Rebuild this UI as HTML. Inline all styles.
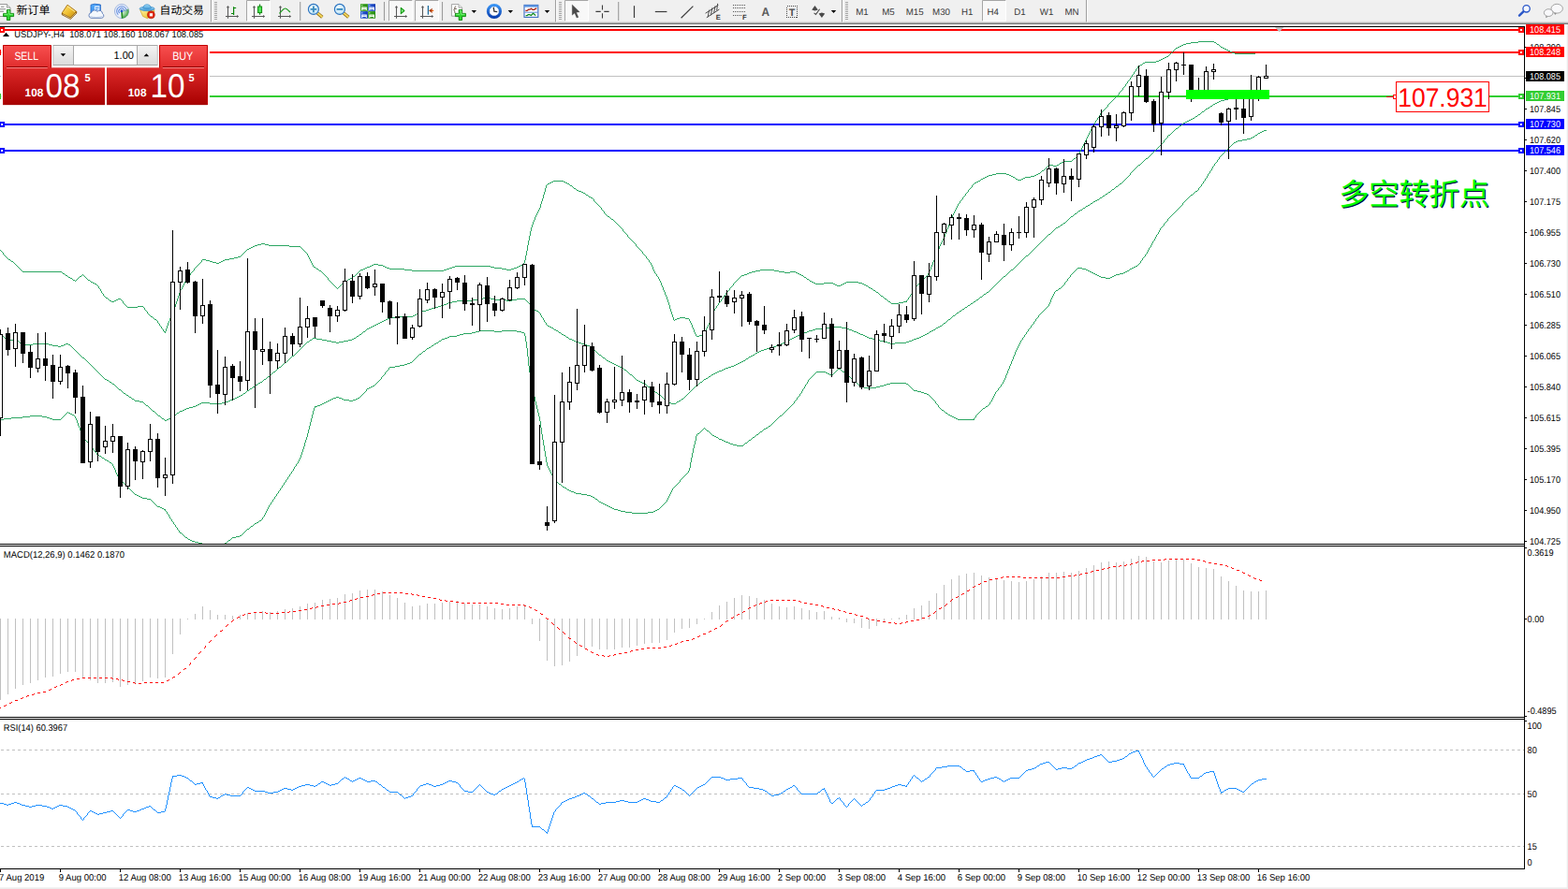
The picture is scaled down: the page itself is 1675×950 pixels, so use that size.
<!DOCTYPE html>
<html><head><meta charset="utf-8"><title>USDJPY H4</title>
<style>
html,body{margin:0;padding:0;background:#fff;}
body{width:1675px;height:950px;overflow:hidden;position:relative;font-family:"Liberation Sans", sans-serif;}
svg text{font-family:"Liberation Sans", sans-serif;text-rendering:geometricPrecision;}
</style></head><body>
<svg width="1675" height="950" viewBox="0 0 1675 950" style="position:absolute;left:0;top:0;display:block"><rect x="0" y="0" width="1675" height="950" fill="#fff"/>
<g shape-rendering="crispEdges">
<rect x="0" y="31" width="1628" height="2" fill="#ff0000"/>
<rect x="0" y="55" width="1628" height="2" fill="#ff0000"/>
<rect x="0" y="81" width="1628" height="1" fill="#c0c0c0"/>
<rect x="0" y="102" width="1628" height="2" fill="#32cd32"/>
<rect x="0" y="132" width="1628" height="2" fill="#0000ff"/>
<rect x="0" y="160" width="1628" height="2" fill="#0000ff"/>
</g>
<clipPath id="mainclip"><rect x="0" y="29" width="1628" height="552"/></clipPath>
<g clip-path="url(#mainclip)"><path d="M0 267.5h1M1 268.5h1M2 269.5h1M3.5 270v2M4 272.5h1M5 273.5h1M6 274.5h1M7 275.5h1M8 276.5h1M9 277.5h2M11 278.5h1M12 279.5h2M14 280.5h1M15 281.5h1M16 282.5h1M17 283.5h1M18 284.5h1M19 285.5h1M20 286.5h1M21 287.5h1M22 288.5h1M23 289.5h1M24 290.5h42M66 291.5h1M67 292.5h2M69 293.5h1M70 294.5h2M72 295.5h1M73 296.5h2M75 297.5h2M77 298.5h1M78 299.5h2M80 300.5h1M81 299.5h1M82 298.5h1M83 297.5h1M84 296.5h1M85 295.5h2M87 294.5h1M88 293.5h1M89 294.5h1M90 295.5h1M91 296.5h1M92 297.5h1M93 298.5h1M94 299.5h2M96 300.5h1M97 301.5h2M99 302.5h2M101 303.5h2M103 304.5h1M104 305.5h1M105.5 306v2M106 308.5h1M107.5 309v2M108.5 311v2M109 313.5h1M110.5 314v2M111 316.5h1M112 317.5h1M113 318.5h2M115 319.5h1M116 320.5h1M117 321.5h2M119 322.5h3M122 321.5h2M124 320.5h2M126 319.5h3M129 320.5h1M130 321.5h1M131.5 322v2M132 324.5h1M133 325.5h1M134 326.5h1M135 327.5h1M136 328.5h11M147 327.5h6M153 328.5h1M154.5 329v2M155 331.5h1M156 332.5h1M157.5 333v2M158 335.5h1M159 336.5h1M160 337.5h1M161 338.5h2M163 339.5h1M164 340.5h1M165 341.5h2M167 342.5h1M168.5 343v2M169 345.5h1M170.5 346v2M171 348.5h1M172.5 349v2M173 351.5h1M174.5 352v2M175 354.5h1M176.5 354v2M177.5 351v3M178.5 348v3M179.5 345v3M180.5 343v2M181.5 340v3M182.5 337v3M183.5 335v2M184.5 333v2M185.5 330v3M186.5 328v2M187.5 325v3M188.5 322v3M189.5 319v3M190.5 316v3M191.5 313v3M192.5 310v3M193 309.5h1M194.5 307v2M195.5 305v2M196.5 303v2M197.5 301v2M198.5 299v2M199.5 297v2M200 296.5h1M201 295.5h1M202 294.5h1M203.5 292v2M204 291.5h1M205 290.5h1M206 289.5h1M207.5 287v2M208 286.5h1M209 285.5h1M210 284.5h1M211 283.5h1M212 282.5h1M213 281.5h1M214 280.5h1M215.5 278v2M216 277.5h4M220 278.5h4M224 279.5h3M227 280.5h4M231 281.5h3M234 280.5h2M236 279.5h2M238 278.5h2M240 277.5h5M245 276.5h5M250 275.5h4M254 274.5h3M257 273.5h1M258 272.5h1M259 271.5h1M260 270.5h1M261 269.5h1M262 268.5h1M263 267.5h1M264 266.5h2M266 265.5h2M268 264.5h2M270 263.5h2M272 262.5h3M275 261.5h4M279 260.5h4M283 261.5h4M287 262.5h22M309 263.5h12M321 264.5h1M322 265.5h1M323 266.5h1M324 267.5h1M325 268.5h1M326 269.5h1M327 270.5h1M328.5 271v2M329.5 273v2M330.5 275v2M331.5 277v2M332.5 279v2M333.5 281v2M334.5 283v2M335 285.5h2M337 286.5h1M338 287.5h2M340 288.5h1M341 289.5h2M343 290.5h1M344 291.5h1M345 292.5h1M346 293.5h1M347 294.5h1M348 295.5h1M349 296.5h1M350.5 297v2M351 299.5h1M352 300.5h1M353 301.5h1M354 302.5h1M355 303.5h1M356 304.5h1M357 305.5h1M358 306.5h1M359 307.5h1M360 308.5h1M361 307.5h1M362 306.5h1M363 305.5h1M364 304.5h1M365 303.5h1M366 302.5h2M368 301.5h1M369 300.5h2M371 299.5h1M372 298.5h2M374 297.5h2M376 296.5h1M377 295.5h2M379 294.5h1M380 293.5h1M381 292.5h1M382 291.5h1M383 290.5h1M384 289.5h1M385 288.5h3M388 287.5h2M390 286.5h2M392 285.5h3M395 284.5h2M397 283.5h2M399 282.5h5M404 283.5h5M409 284.5h2M411 285.5h2M413 286.5h3M416 287.5h16M432 288.5h8M440 289.5h34M474 288.5h3M477 287.5h3M480 286.5h3M483 285.5h3M486 284.5h38M524 285.5h4M528 286.5h8M536 287.5h5M541 288.5h5M546 287.5h3M549 286.5h3M552 285.5h2M554 284.5h2M556 283.5h2M558 282.5h1M559 281.5h1M560.5 278v3M561.5 273v5M562.5 268v5M563.5 262v6M564.5 257v5M565.5 252v5M566.5 247v5M567.5 243v4M568.5 240v3M569.5 237v3M570.5 235v2M571.5 232v3M572.5 230v2M573.5 228v2M574.5 226v2M575.5 224v2M576.5 222v2M577.5 218v4M578.5 215v3M579.5 212v3M580.5 208v4M581.5 205v3M582.5 201v4M583.5 198v3M584 197.5h1M585 196.5h2M587 195.5h2M589 194.5h2M591 193.5h11M602 194.5h2M604 195.5h2M606 196.5h2M608 197.5h1M609 198.5h2M611 199.5h1M612 200.5h1M613 201.5h2M615 202.5h1M616 203.5h2M618 204.5h3M621 205.5h2M623 206.5h2M625 207.5h1M626 208.5h2M628 209.5h1M629 210.5h2M631 211.5h2M633 212.5h1M634.5 213v2M635 215.5h1M636 216.5h1M637 217.5h1M638 218.5h1M639 219.5h1M640 220.5h1M641 221.5h1M642.5 222v2M643 224.5h1M644 225.5h1M645.5 226v2M646 228.5h1M647 229.5h1M648 230.5h1M649 231.5h2M651 232.5h1M652 233.5h1M653 234.5h2M655 235.5h1M656 236.5h1M657 237.5h1M658 238.5h1M659 239.5h1M660 240.5h1M661 241.5h1M662 242.5h1M663 243.5h1M664 244.5h1M665.5 245v2M666 247.5h1M667 248.5h1M668 249.5h1M669 250.5h1M670.5 251v2M671 253.5h1M672 254.5h1M673 255.5h1M674 256.5h1M675 257.5h1M676 258.5h1M677 259.5h1M678 260.5h1M679.5 261v2M680 263.5h1M681 264.5h1M682 265.5h1M683 266.5h1M684 267.5h1M685 268.5h1M686.5 269v2M687 271.5h1M688 272.5h1M689 273.5h1M690.5 274v2M691 276.5h1M692 277.5h1M693.5 278v2M694 280.5h1M695.5 281v2M696.5 283v2M697.5 285v3M698.5 288v2M699.5 290v2M700 292.5h1M701.5 293v2M702 295.5h1M703.5 296v2M704.5 298v2M705.5 300v2M706.5 302v3M707.5 305v2M708.5 307v3M709.5 310v2M710.5 312v3M711.5 315v2M712.5 317v3M713.5 320v3M714.5 323v3M715.5 326v4M716.5 330v3M717.5 333v3M718.5 336v3M719.5 339v3M720 342.5h1M721 341.5h2M723 340.5h3M726 339.5h6M732 340.5h4M736.5 341v2M737.5 343v2M738.5 345v2M739.5 347v3M740.5 350v2M741.5 352v3M742.5 355v2M743.5 357v2M744 359.5h3M747 358.5h3M750 357.5h1M751.5 355v2M752 354.5h1M753 353.5h1M754.5 351v2M755.5 349v2M756.5 347v2M757.5 345v2M758.5 342v3M759.5 340v2M760.5 337v3M761.5 334v3M762.5 332v2M763.5 330v2M764 329.5h1M765.5 327v2M766 326.5h1M767.5 324v2M768 323.5h1M769 322.5h1M770.5 320v2M771 319.5h1M772.5 317v2M773 316.5h1M774 315.5h1M775.5 313v2M776 312.5h1M777 311.5h1M778 310.5h1M779.5 308v2M780 307.5h1M781 306.5h1M782 305.5h1M783.5 303v2M784 302.5h1M785 301.5h1M786 300.5h1M787 299.5h1M788 298.5h1M789 297.5h1M790 296.5h1M791 295.5h1M792 294.5h3M795 293.5h3M798 292.5h2M800 291.5h3M803 290.5h4M807 289.5h5M812 288.5h15M827 289.5h5M832 290.5h6M838 291.5h6M844 290.5h6M850 291.5h2M852 292.5h2M854 293.5h2M856 294.5h2M858 295.5h1M859 296.5h2M861 297.5h1M862 298.5h2M864 299.5h1M865 300.5h2M867 301.5h2M869 302.5h2M871 303.5h9M880 302.5h10M890 303.5h2M892 304.5h2M894 305.5h4M898 304.5h2M900 303.5h2M902 302.5h2M904 301.5h13M917 302.5h4M921 303.5h2M923 304.5h2M925 305.5h2M927 306.5h1M928 307.5h2M930 308.5h2M932 309.5h1M933 310.5h2M935 311.5h1M936 312.5h2M938 313.5h1M939 314.5h1M940 315.5h1M941 316.5h2M943 317.5h1M944 318.5h1M945 319.5h2M947 320.5h1M948 321.5h1M949 322.5h2M951 323.5h1M952 324.5h8M960 323.5h5M965 322.5h3M968.5 321v2M969 320.5h1M970.5 318v2M971 317.5h1M972.5 315v2M973 314.5h1M974.5 312v2M975 311.5h1M976.5 309v2M977.5 307v2M978 306.5h1M979 305.5h1M980 304.5h1M981 303.5h1M982 302.5h1M983 301.5h1M984 300.5h1M985 299.5h1M986 298.5h1M987 297.5h1M988 296.5h1M989 295.5h1M990 294.5h1M991.5 292v2M992.5 290v2M993.5 288v2M994.5 285v3M995.5 283v2M996.5 280v3M997.5 278v2M998.5 275v3M999.5 273v2M1000.5 271v2M1001.5 268v3M1002.5 266v2M1003.5 263v3M1004.5 261v2M1005.5 259v2M1006.5 257v2M1007.5 255v2M1008.5 253v2M1009.5 250v3M1010.5 248v2M1011.5 245v3M1012.5 243v2M1013.5 240v3M1014.5 238v2M1015.5 235v3M1016.5 232v3M1017.5 230v2M1018.5 228v2M1019.5 226v2M1020.5 224v2M1021.5 222v2M1022.5 220v2M1023.5 218v2M1024 217.5h1M1025.5 215v2M1026 214.5h1M1027 213.5h1M1028.5 211v2M1029 210.5h1M1030 209.5h1M1031.5 207v2M1032 206.5h1M1033 205.5h1M1034.5 203v2M1035 202.5h1M1036 201.5h1M1037 200.5h1M1038.5 198v2M1039 197.5h1M1040 196.5h1M1041 195.5h2M1043 194.5h2M1045 193.5h2M1047 192.5h1M1048 191.5h2M1050 190.5h2M1052 189.5h2M1054 188.5h2M1056 187.5h4M1060 186.5h4M1064 185.5h11M1075 186.5h3M1078 187.5h2M1080 188.5h2M1082 189.5h2M1084 190.5h1M1085 191.5h2M1087 192.5h4M1091 191.5h2M1093 190.5h2M1095 189.5h6M1101 188.5h4M1105 187.5h2M1107 186.5h2M1109 185.5h2M1111 184.5h1M1112 183.5h1M1113 182.5h2M1115 181.5h1M1116 180.5h1M1117 179.5h1M1118 178.5h1M1119 177.5h1M1120 176.5h5M1125 177.5h4M1129 176.5h2M1131 175.5h1M1132 174.5h2M1134 173.5h2M1136 172.5h9M1145 171.5h1M1146 170.5h1M1147 169.5h2M1149 168.5h1M1150 167.5h1M1151 166.5h1M1152.5 164v2M1153.5 162v2M1154.5 160v2M1155.5 158v2M1156.5 156v2M1157.5 154v2M1158.5 152v2M1159.5 150v2M1160.5 148v2M1161.5 146v2M1162.5 144v2M1163.5 142v2M1164.5 140v2M1165.5 138v2M1166.5 136v2M1167.5 134v2M1168 133.5h1M1169.5 131v2M1170.5 129v2M1171 128.5h1M1172.5 126v2M1173 125.5h1M1174.5 123v2M1175.5 121v2M1176 120.5h1M1177 119.5h1M1178 118.5h1M1179 117.5h1M1180 116.5h1M1181 115.5h1M1182 114.5h1M1183.5 112v2M1184 111.5h1M1185 110.5h1M1186 109.5h1M1187 108.5h1M1188 107.5h1M1189 106.5h1M1190 105.5h1M1191 104.5h1M1192 103.5h1M1193 102.5h1M1194 101.5h1M1195.5 99v2M1196 98.5h1M1197 97.5h1M1198 96.5h1M1199.5 94v2M1200 93.5h1M1201 92.5h1M1202.5 90v2M1203 89.5h1M1204.5 87v2M1205 86.5h1M1206 85.5h1M1207.5 83v2M1208 82.5h1M1209.5 80v2M1210 79.5h1M1211.5 77v2M1212 76.5h1M1213.5 74v2M1214 73.5h1M1215.5 71v2M1216 70.5h2M1218 69.5h2M1220 68.5h1M1221 67.5h2M1223 66.5h12M1235 65.5h3M1238 64.5h2M1240 63.5h2M1242 62.5h2M1244 61.5h2M1246 60.5h2M1248 59.5h1M1249 58.5h1M1250 57.5h1M1251 56.5h1M1252 55.5h1M1253 54.5h1M1254 53.5h1M1255 52.5h1M1256 51.5h2M1258 50.5h2M1260 49.5h2M1262 48.5h2M1264 47.5h3M1267 46.5h5M1272 45.5h8M1280 44.5h17M1297 45.5h2M1299 46.5h1M1300 47.5h2M1302 48.5h1M1303 49.5h1M1304 50.5h2M1306 51.5h2M1308 52.5h2M1310 53.5h2M1312 54.5h2M1314 55.5h2M1316 56.5h3M1319 57.5h22M0 357.5h1M1 358.5h2M3 359.5h1M4 360.5h1M5 361.5h2M7 362.5h1M8 363.5h10M18 364.5h2M20 365.5h1M21 366.5h2M23 367.5h1M24 368.5h11M35 367.5h17M52 368.5h4M56 369.5h6M62 370.5h3M65 369.5h3M68 368.5h2M70 367.5h3M73 368.5h2M75 369.5h1M76 370.5h1M77 371.5h1M78 372.5h1M79 373.5h1M80 374.5h1M81 375.5h1M82 376.5h1M83 377.5h1M84 378.5h1M85 379.5h1M86 380.5h1M87 381.5h1M88 382.5h2M90 383.5h1M91 384.5h1M92 385.5h1M93 386.5h1M94 387.5h1M95 388.5h1M96 389.5h1M97 390.5h1M98 391.5h1M99 392.5h1M100 393.5h1M101 394.5h1M102 395.5h1M103 396.5h1M104 397.5h1M105 398.5h1M106 399.5h1M107 400.5h1M108 401.5h1M109 402.5h1M110 403.5h1M111 404.5h1M112 405.5h2M114 406.5h2M116 407.5h1M117 408.5h2M119 409.5h1M120 410.5h2M122 411.5h1M123 412.5h1M124 413.5h1M125 414.5h1M126 415.5h1M127 416.5h2M129 417.5h1M130 418.5h1M131 419.5h1M132 420.5h2M134 421.5h1M135 422.5h2M137 423.5h1M138 424.5h2M140 425.5h1M141 426.5h2M143 427.5h1M144 428.5h5M149 429.5h4M153 430.5h1M154 431.5h1M155 432.5h1M156 433.5h2M158 434.5h1M159 435.5h1M160 436.5h1M161 437.5h1M162 438.5h1M163 439.5h2M165 440.5h1M166 441.5h1M167 442.5h1M168 443.5h1M169 444.5h2M171 445.5h1M172 446.5h1M173 447.5h2M175 448.5h1M176 449.5h2M178 448.5h2M180 447.5h3M183 446.5h1M184 445.5h1M185 444.5h2M187 443.5h1M188 442.5h1M189 441.5h2M191 440.5h1M192 439.5h3M195 438.5h2M197 437.5h2M199 436.5h3M202 435.5h4M206 434.5h3M209 433.5h2M211 432.5h2M213 431.5h2M215 430.5h9M224 431.5h13M237 430.5h4M241 429.5h3M244 428.5h2M246 427.5h2M248 426.5h3M251 425.5h2M253 424.5h2M255 423.5h2M257 422.5h2M259 421.5h1M260 420.5h2M262 419.5h1M263 418.5h1M264 417.5h2M266 416.5h1M267 415.5h2M269 414.5h1M270 413.5h2M272 412.5h1M273 411.5h2M275 410.5h1M276 409.5h2M278 408.5h2M280 407.5h1M281 406.5h1M282 405.5h2M284 404.5h1M285 403.5h1M286 402.5h2M288 401.5h1M289 400.5h1M290 399.5h1M291 398.5h1M292 397.5h2M294 396.5h1M295 395.5h1M296 394.5h1M297 393.5h1M298 392.5h2M300 391.5h1M301 390.5h1M302 389.5h1M303 388.5h1M304 387.5h2M306 386.5h1M307 385.5h1M308 384.5h1M309 383.5h1M310 382.5h1M311 381.5h1M312 380.5h2M314 379.5h1M315 378.5h1M316 377.5h1M317 376.5h1M318 375.5h1M319 374.5h1M320 373.5h1M321 372.5h1M322 371.5h1M323 370.5h1M324 369.5h1M325 368.5h1M326 367.5h1M327 366.5h1M328 365.5h2M330 364.5h1M331 363.5h2M333 362.5h1M334 361.5h4M338 362.5h6M344 363.5h5M349 364.5h5M354 365.5h5M359 366.5h3M362 365.5h5M367 364.5h5M372 363.5h4M376 362.5h2M378 361.5h2M380 360.5h1M381 359.5h2M383 358.5h1M384 357.5h2M386 356.5h1M387 355.5h1M388 354.5h2M390 353.5h1M391 352.5h1M392 351.5h2M394 350.5h2M396 349.5h2M398 348.5h2M400 347.5h2M402 346.5h2M404 345.5h2M406 344.5h2M408 343.5h2M410 342.5h2M412 341.5h2M414 340.5h2M416 339.5h8M424 338.5h17M441 337.5h2M443 336.5h2M445 335.5h2M447 334.5h1M448 333.5h3M451 332.5h4M455 331.5h3M458 330.5h3M461 329.5h3M464 328.5h4M468 327.5h3M471 326.5h3M474 325.5h3M477 324.5h2M479 323.5h4M483 322.5h5M488 321.5h16M504 320.5h8M512 319.5h4M516 318.5h8M524 319.5h4M528 320.5h13M541 321.5h6M547 320.5h5M552 319.5h9M561 320.5h1M562 321.5h1M563 322.5h1M564 323.5h1M565 324.5h1M566 325.5h1M567.5 326v2M568 328.5h1M569 329.5h1M570 330.5h1M571 331.5h2M573 332.5h2M575 333.5h1M576 334.5h1M577.5 335v2M578.5 337v2M579 339.5h1M580.5 340v2M581.5 342v2M582 344.5h1M583.5 345v2M584 347.5h1M585 348.5h2M587 349.5h2M589 350.5h2M591 351.5h1M592 352.5h2M594 353.5h2M596 354.5h1M597 355.5h2M599 356.5h1M600 357.5h2M602 358.5h2M604 359.5h1M605 360.5h2M607 361.5h1M608 362.5h3M611 363.5h2M613 364.5h2M615 365.5h3M618 366.5h3M621 367.5h3M624 368.5h3M627 369.5h3M630 370.5h2M632 371.5h1M633 372.5h1M634 373.5h1M635 374.5h1M636 375.5h1M637 376.5h1M638 377.5h1M639 378.5h1M640 379.5h2M642 380.5h1M643 381.5h1M644 382.5h2M646 383.5h1M647 384.5h1M648 385.5h2M650 386.5h2M652 387.5h2M654 388.5h2M656 389.5h2M658 390.5h2M660 391.5h2M662 392.5h2M664 393.5h2M666 394.5h1M667 395.5h2M669 396.5h1M670 397.5h1M671 398.5h1M672 399.5h1M673 400.5h2M675 401.5h1M676 402.5h1M677 403.5h1M678 404.5h1M679 405.5h1M680 406.5h2M682 407.5h2M684 408.5h2M686 409.5h2M688 410.5h2M690 411.5h1M691 412.5h1M692 413.5h2M694 414.5h1M695 415.5h1M696 416.5h2M698 417.5h1M699 418.5h1M700 419.5h2M702 420.5h1M703 421.5h1M704 422.5h2M706 423.5h1M707 424.5h1M708 425.5h1M709 426.5h1M710 427.5h1M711 428.5h1M712 429.5h3M715 430.5h2M717 431.5h5M722 430.5h1M723 429.5h2M725 428.5h2M727 427.5h1M728 426.5h2M730 425.5h1M731 424.5h1M732 423.5h1M733 422.5h1M734 421.5h1M735 420.5h1M736 419.5h1M737 418.5h1M738 417.5h1M739 416.5h1M740 415.5h1M741 414.5h1M742 413.5h1M743 412.5h1M744 411.5h2M746 410.5h1M747 409.5h1M748 408.5h2M750 407.5h1M751 406.5h1M752 405.5h2M754 404.5h2M756 403.5h1M757 402.5h2M759 401.5h1M760 400.5h2M762 399.5h2M764 398.5h2M766 397.5h2M768 396.5h3M771 395.5h2M773 394.5h2M775 393.5h3M778 392.5h3M781 391.5h3M784 390.5h2M786 389.5h2M788 388.5h2M790 387.5h2M792 386.5h2M794 385.5h2M796 384.5h1M797 383.5h2M799 382.5h1M800 381.5h2M802 380.5h2M804 379.5h2M806 378.5h1M807 377.5h2M809 376.5h2M811 375.5h2M813 374.5h3M816 373.5h3M819 372.5h4M823 371.5h3M826 370.5h3M829 369.5h3M832 368.5h2M834 367.5h2M836 366.5h2M838 365.5h2M840 364.5h2M842 363.5h2M844 362.5h2M846 361.5h2M848 360.5h2M850 359.5h2M852 358.5h2M854 357.5h2M856 356.5h3M859 355.5h3M862 354.5h2M864 353.5h4M868 352.5h3M871 351.5h9M880 350.5h8M888 349.5h11M899 350.5h5M904 351.5h3M907 352.5h3M910 353.5h2M912 354.5h3M915 355.5h2M917 356.5h2M919 357.5h3M922 358.5h2M924 359.5h2M926 360.5h2M928 361.5h4M932 362.5h4M936 363.5h4M940 364.5h4M944 365.5h4M948 366.5h3M951 367.5h5M956 366.5h12M968 365.5h3M971 364.5h3M974 363.5h2M976 362.5h3M979 361.5h3M982 360.5h2M984 359.5h2M986 358.5h2M988 357.5h2M990 356.5h2M992 355.5h1M993 354.5h2M995 353.5h2M997 352.5h2M999 351.5h1M1000 350.5h2M1002 349.5h2M1004 348.5h2M1006 347.5h1M1007 346.5h1M1008 345.5h2M1010 344.5h1M1011 343.5h1M1012 342.5h1M1013 341.5h2M1015 340.5h1M1016 339.5h1M1017 338.5h1M1018 337.5h2M1020 336.5h1M1021 335.5h1M1022 334.5h2M1024 333.5h1M1025 332.5h2M1027 331.5h1M1028 330.5h2M1030 329.5h1M1031 328.5h2M1033 327.5h1M1034 326.5h2M1036 325.5h1M1037 324.5h2M1039 323.5h1M1040 322.5h2M1042 321.5h1M1043 320.5h2M1045 319.5h1M1046 318.5h1M1047 317.5h2M1049 316.5h1M1050 315.5h1M1051 314.5h2M1053 313.5h1M1054 312.5h2M1056 311.5h1M1057 310.5h1M1058 309.5h1M1059 308.5h1M1060 307.5h1M1061 306.5h1M1062 305.5h1M1063 304.5h1M1064 303.5h1M1065 302.5h1M1066 301.5h1M1067 300.5h1M1068 299.5h1M1069 298.5h1M1070 297.5h1M1071 296.5h1M1072 295.5h2M1074 294.5h1M1075 293.5h1M1076 292.5h1M1077 291.5h1M1078 290.5h1M1079 289.5h1M1080 288.5h2M1082 287.5h1M1083 286.5h1M1084 285.5h1M1085 284.5h1M1086 283.5h1M1087 282.5h1M1088 281.5h1M1089 280.5h1M1090 279.5h1M1091 278.5h1M1092 277.5h1M1093 276.5h1M1094 275.5h1M1095 274.5h1M1096 273.5h2M1098 272.5h1M1099 271.5h1M1100 270.5h1M1101 269.5h1M1102 268.5h1M1103 267.5h1M1104 266.5h1M1105 265.5h1M1106 264.5h1M1107 263.5h1M1108 262.5h1M1109 261.5h1M1110 260.5h1M1111 259.5h1M1112 258.5h1M1113 257.5h1M1114 256.5h1M1115 255.5h1M1116 254.5h1M1117 253.5h1M1118 252.5h1M1119 251.5h1M1120 250.5h2M1122 249.5h1M1123 248.5h1M1124 247.5h1M1125 246.5h1M1126 245.5h1M1127 244.5h1M1128 243.5h2M1130 242.5h2M1132 241.5h1M1133 240.5h2M1135 239.5h1M1136 238.5h2M1138 237.5h1M1139 236.5h1M1140 235.5h1M1141 234.5h1M1142 233.5h1M1143 232.5h1M1144 231.5h2M1146 230.5h1M1147 229.5h1M1148 228.5h2M1150 227.5h1M1151 226.5h1M1152 225.5h2M1154 224.5h2M1156 223.5h1M1157 222.5h2M1159 221.5h1M1160 220.5h2M1162 219.5h2M1164 218.5h1M1165 217.5h2M1167 216.5h1M1168 215.5h2M1170 214.5h2M1172 213.5h2M1174 212.5h1M1175 211.5h2M1177 210.5h1M1178 209.5h2M1180 208.5h1M1181 207.5h2M1183 206.5h1M1184 205.5h2M1186 204.5h1M1187 203.5h1M1188 202.5h2M1190 201.5h1M1191 200.5h1M1192 199.5h2M1194 198.5h1M1195 197.5h1M1196 196.5h2M1198 195.5h1M1199 194.5h1M1200 193.5h1M1201 192.5h1M1202 191.5h1M1203 190.5h1M1204 189.5h1M1205 188.5h1M1206 187.5h1M1207.5 185v2M1208 184.5h1M1209 183.5h1M1210 182.5h1M1211 181.5h1M1212 180.5h1M1213 179.5h1M1214 178.5h1M1215 177.5h1M1216 176.5h2M1218 175.5h1M1219 174.5h1M1220 173.5h1M1221 172.5h1M1222 171.5h1M1223 170.5h1M1224 169.5h2M1226 168.5h1M1227 167.5h1M1228 166.5h1M1229 165.5h1M1230 164.5h1M1231 163.5h1M1232 162.5h1M1233 161.5h1M1234 160.5h1M1235 159.5h1M1236 158.5h1M1237 157.5h1M1238 156.5h1M1239 155.5h1M1240 154.5h1M1241 153.5h1M1242 152.5h1M1243.5 150v2M1244 149.5h1M1245 148.5h1M1246 147.5h1M1247.5 145v2M1248 144.5h2M1250 143.5h1M1251 142.5h1M1252 141.5h1M1253 140.5h1M1254 139.5h1M1255 138.5h1M1256 137.5h2M1258 136.5h1M1259 135.5h1M1260 134.5h2M1262 133.5h1M1263 132.5h1M1264 131.5h2M1266 130.5h2M1268 129.5h2M1270 128.5h2M1272 127.5h2M1274 126.5h2M1276 125.5h1M1277 124.5h2M1279 123.5h1M1280 122.5h2M1282 121.5h1M1283 120.5h1M1284 119.5h2M1286 118.5h1M1287 117.5h1M1288 116.5h2M1290 115.5h2M1292 114.5h1M1293 113.5h2M1295 112.5h1M1296 111.5h2M1298 110.5h2M1300 109.5h2M1302 108.5h2M1304 107.5h4M1308 106.5h4M1312 105.5h8M1320 104.5h8M1328 103.5h8M1336 102.5h8M1344 101.5h9M0 448.5h4M4 447.5h8M12 446.5h12M24 445.5h8M32 444.5h13M45 445.5h5M50 446.5h3M53 447.5h3M56 448.5h9M65 447.5h1M66 446.5h1M67 445.5h1M68 444.5h1M69 443.5h1M70 442.5h1M71 441.5h1M72 440.5h1M73 441.5h2M75 442.5h2M77 443.5h2M79 444.5h1M80.5 445v2M81.5 447v2M82.5 449v3M83.5 452v3M84.5 455v2M85.5 457v3M86.5 460v3M87.5 463v2M88.5 465v2M89.5 467v2M90 469.5h1M91 470.5h1M92 471.5h1M93 472.5h1M94.5 473v2M95 475.5h1M96 476.5h1M97 477.5h1M98 478.5h1M99.5 479v2M100 481.5h1M101 482.5h1M102 483.5h1M103.5 484v2M104 486.5h2M106 487.5h2M108 488.5h1M109 489.5h2M111 490.5h1M112 491.5h2M114 492.5h2M116 493.5h1M117 494.5h2M119 495.5h1M120.5 496v2M121.5 498v2M122.5 500v2M123.5 502v3M124.5 505v2M125.5 507v2M126 509.5h1M127.5 510v2M128 512.5h1M129 513.5h1M130 514.5h1M131 515.5h1M132 516.5h1M133 517.5h1M134 518.5h1M135 519.5h1M136 520.5h1M137 521.5h1M138 522.5h1M139 523.5h1M140 524.5h1M141 525.5h1M142 526.5h1M143 527.5h1M144 528.5h2M146 529.5h2M148 530.5h2M150 531.5h2M152 532.5h5M157 533.5h4M161 534.5h1M162 535.5h1M163 536.5h1M164 537.5h1M165 538.5h1M166 539.5h1M167 540.5h1M168 541.5h3M171 542.5h2M173 543.5h2M175 544.5h1M176.5 544v2M177 546.5h1M178.5 547v2M179 549.5h1M180.5 550v2M181.5 552v2M182 554.5h1M183.5 555v2M184 557.5h1M185.5 558v2M186 560.5h1M187.5 561v2M188 563.5h1M189.5 564v2M190 566.5h1M191.5 567v2M192 569.5h2M194 570.5h1M195 571.5h1M196 572.5h1M197 573.5h1M198 574.5h2M200 575.5h1M201 576.5h2M203 577.5h2M205 578.5h3M208 579.5h4M212 580.5h4M240 580.5h2M242 579.5h1M243 578.5h1M244 577.5h2M246 576.5h1M247 575.5h1M248 574.5h4M252 573.5h4M256 572.5h2M258 571.5h1M259 570.5h1M260 569.5h1M261 568.5h1M262 567.5h1M263 566.5h1M264 565.5h2M266 564.5h1M267 563.5h1M268 562.5h2M270 561.5h1M271 560.5h1M272 559.5h2M274 558.5h2M276 557.5h1M277 556.5h2M279 555.5h1M280.5 553v2M281 552.5h1M282.5 550v2M283.5 548v2M284.5 546v2M285.5 544v2M286.5 542v2M287.5 540v2M288 539.5h1M289.5 537v2M290 536.5h1M291.5 534v2M292 533.5h1M293.5 531v2M294 530.5h1M295.5 528v2M296 527.5h1M297.5 525v2M298 524.5h1M299.5 522v2M300 521.5h1M301.5 519v2M302 518.5h1M303.5 516v2M304 515.5h1M305.5 513v2M306 512.5h1M307.5 510v2M308 509.5h1M309.5 507v2M310 506.5h1M311.5 504v2M312 503.5h1M313.5 501v2M314.5 499v2M315 498.5h1M316.5 496v2M317 495.5h1M318.5 493v2M319.5 491v2M320.5 489v2M321.5 486v3M322.5 483v3M323.5 480v3M324.5 477v3M325.5 473v4M326.5 470v3M327.5 467v3M328.5 463v4M329.5 459v4M330.5 455v4M331.5 451v4M332.5 447v4M333.5 443v4M334.5 439v4M335.5 436v3M336.5 434v2M337 434.5h2M339 433.5h3M342 432.5h2M344 431.5h2M346 430.5h2M348 429.5h2M350 428.5h2M352 427.5h2M354 426.5h2M356 425.5h3M359 424.5h3M362 425.5h3M365 426.5h2M367 427.5h6M373 428.5h4M377 427.5h3M380 426.5h2M382 425.5h2M384 424.5h1M385 423.5h1M386 422.5h1M387 421.5h1M388 420.5h1M389 419.5h1M390 418.5h1M391.5 416v2M392 415.5h2M394 414.5h2M396 413.5h2M398 412.5h2M400 411.5h1M401 410.5h1M402 409.5h1M403 408.5h1M404 407.5h1M405 406.5h1M406 405.5h1M407.5 403v2M408 402.5h1M409 401.5h1M410 400.5h1M411.5 398v2M412 397.5h1M413 396.5h1M414 395.5h1M415.5 393v2M416 392.5h6M422 391.5h5M427 390.5h5M432 389.5h3M435 388.5h3M438 387.5h2M440 386.5h1M441 385.5h1M442 384.5h1M443 383.5h1M444 382.5h1M445 381.5h1M446 380.5h1M447 379.5h1M448 378.5h2M450 377.5h1M451 376.5h1M452 375.5h2M454 374.5h1M455 373.5h1M456 372.5h2M458 371.5h2M460 370.5h1M461 369.5h2M463 368.5h1M464 367.5h2M466 366.5h2M468 365.5h1M469 364.5h2M471 363.5h1M472 362.5h3M475 361.5h3M478 360.5h2M480 359.5h8M488 358.5h3M491 357.5h4M495 356.5h9M504 355.5h4M508 354.5h4M512 353.5h16M528 354.5h8M536 353.5h16M552 354.5h5M557 355.5h3M560.5 356v3M561.5 359v6M562.5 365v7M563.5 372v9M564.5 381v10M565.5 391v7M566.5 398v5M567.5 403v5M568.5 408v5M569.5 413v6M570.5 419v5M571.5 424v5M572.5 429v4M573.5 433v4M574.5 437v4M575.5 441v4M576.5 445v5M577.5 450v7M578.5 457v7M579.5 464v6M580.5 470v6M581.5 476v6M582.5 482v6M583.5 488v6M584.5 494v4M585.5 498v2M586.5 500v2M587.5 502v2M588.5 504v2M589.5 506v2M590.5 508v2M591 510.5h1M592 511.5h1M593.5 512v2M594 514.5h1M595 515.5h1M596 516.5h1M597 517.5h2M599 518.5h1M600 519.5h1M601 520.5h2M603 521.5h2M605 522.5h1M606 523.5h2M608 524.5h2M610 525.5h3M613 526.5h2M615 527.5h6M621 528.5h6M627 529.5h4M631 530.5h2M633 531.5h2M635 532.5h1M636 533.5h2M638 534.5h1M639 535.5h1M640 536.5h2M642 537.5h2M644 538.5h2M646 539.5h2M648 540.5h2M650 541.5h2M652 542.5h2M654 543.5h2M656 544.5h4M660 545.5h3M663 546.5h5M668 547.5h7M675 548.5h17M692 547.5h6M698 546.5h2M700 545.5h2M702 544.5h2M704 543.5h1M705 542.5h1M706 541.5h1M707 540.5h1M708 539.5h1M709 538.5h1M710 537.5h1M711 536.5h1M712.5 534v2M713.5 532v2M714.5 530v2M715.5 528v2M716.5 526v2M717.5 524v2M718.5 522v2M719 521.5h1M720 520.5h1M721 519.5h1M722 518.5h1M723 517.5h1M724 516.5h1M725 515.5h1M726.5 513v2M727 512.5h1M728 511.5h1M729 510.5h1M730 509.5h1M731 508.5h1M732 507.5h1M733 506.5h1M734 505.5h1M735.5 503v2M736.5 500v3M737.5 494v6M738.5 489v5M739.5 484v5M740.5 479v5M741.5 475v4M742.5 471v4M743.5 466v5M744.5 464v2M745 463.5h2M747 462.5h1M748 461.5h1M749 460.5h1M750 459.5h1M751 458.5h1M752 457.5h1M753 458.5h1M754 459.5h1M755 460.5h2M757 461.5h1M758 462.5h1M759 463.5h1M760 464.5h1M761 465.5h2M763 466.5h2M765 467.5h2M767 468.5h1M768 469.5h3M771 470.5h2M773 471.5h2M775 472.5h3M778 473.5h2M780 474.5h3M783 475.5h4M787 476.5h7M794 475.5h1M795 474.5h1M796 473.5h2M798 472.5h1M799 471.5h1M800 470.5h2M802 469.5h1M803 468.5h1M804 467.5h2M806 466.5h1M807 465.5h1M808 464.5h2M810 463.5h1M811 462.5h1M812 461.5h2M814 460.5h1M815 459.5h1M816 458.5h2M818 457.5h2M820 456.5h1M821 455.5h2M823 454.5h1M824 453.5h1M825 452.5h1M826 451.5h1M827 450.5h1M828 449.5h1M829 448.5h1M830 447.5h1M831 446.5h1M832 445.5h1M833 444.5h2M835 443.5h1M836 442.5h1M837 441.5h1M838 440.5h1M839 439.5h1M840 438.5h1M841 437.5h1M842 436.5h1M843 435.5h1M844 434.5h1M845 433.5h1M846 432.5h1M847 431.5h1M848.5 429v2M849 428.5h1M850 427.5h1M851.5 425v2M852 424.5h1M853 423.5h1M854.5 421v2M855 420.5h1M856.5 418v2M857.5 416v2M858 415.5h1M859.5 413v2M860.5 411v2M861 410.5h1M862.5 408v2M863.5 406v2M864 405.5h1M865 404.5h1M866 403.5h1M867 402.5h1M868 401.5h1M869 400.5h1M870 399.5h1M871 398.5h1M872 397.5h10M882 398.5h2M884 399.5h2M886 400.5h4M890 399.5h1M891 398.5h1M892 397.5h1M893 396.5h1M894 395.5h1M895 394.5h3M898 395.5h1M899 396.5h1M900 397.5h2M902 398.5h1M903 399.5h1M904 400.5h2M906 401.5h1M907 402.5h1M908 403.5h1M909 404.5h1M910 405.5h1M911 406.5h1M912 407.5h2M914 408.5h1M915 409.5h1M916 410.5h1M917 411.5h1M918 412.5h2M920 413.5h3M923 414.5h13M936 413.5h4M940 412.5h4M944 411.5h3M947 410.5h4M951 409.5h17M968 410.5h2M970 411.5h1M971 412.5h1M972 413.5h1M973 414.5h1M974 415.5h1M975 416.5h1M976 417.5h4M980 418.5h4M984 419.5h3M987 420.5h3M990 421.5h2M992 422.5h1M993 423.5h1M994 424.5h1M995 425.5h1M996 426.5h1M997 427.5h1M998 428.5h1M999.5 429v2M1000 431.5h1M1001 432.5h1M1002.5 433v2M1003 435.5h1M1004 436.5h1M1005 437.5h1M1006 438.5h2M1008 439.5h1M1009 440.5h1M1010 441.5h2M1012 442.5h1M1013 443.5h2M1015 444.5h2M1017 445.5h2M1019 446.5h2M1021 447.5h2M1023 448.5h17M1040.5 447v2M1041 446.5h1M1042.5 444v2M1043 443.5h1M1044 442.5h1M1045 441.5h1M1046 440.5h1M1047 439.5h1M1048 438.5h1M1049 437.5h1M1050 436.5h2M1052 435.5h1M1053 434.5h2M1055 433.5h1M1056 432.5h1M1057.5 430v2M1058 429.5h1M1059.5 427v2M1060.5 425v2M1061.5 423v2M1062.5 421v2M1063.5 419v2M1064 418.5h1M1065 417.5h1M1066.5 415v2M1067 414.5h1M1068 413.5h1M1069.5 411v2M1070 410.5h1M1071.5 408v2M1072.5 406v2M1073.5 404v2M1074.5 401v3M1075.5 399v2M1076.5 396v3M1077.5 394v2M1078.5 391v3M1079.5 389v2M1080.5 386v3M1081.5 384v2M1082.5 381v3M1083.5 379v2M1084.5 376v3M1085.5 374v2M1086.5 372v2M1087.5 370v2M1088.5 368v2M1089.5 366v2M1090.5 364v2M1091 363.5h1M1092.5 361v2M1093 360.5h1M1094.5 358v2M1095 357.5h1M1096.5 355v2M1097 354.5h1M1098.5 352v2M1099 351.5h1M1100 350.5h1M1101.5 348v2M1102 347.5h1M1103 346.5h1M1104.5 344v2M1105 343.5h1M1106.5 341v2M1107 340.5h1M1108 339.5h1M1109.5 337v2M1110 336.5h1M1111 335.5h1M1112 334.5h1M1113 333.5h1M1114 332.5h1M1115 331.5h1M1116 330.5h1M1117 329.5h1M1118 328.5h1M1119 327.5h1M1120.5 325v2M1121.5 323v2M1122.5 320v3M1123.5 318v2M1124.5 316v2M1125.5 314v2M1126.5 312v2M1127 311.5h1M1128 310.5h2M1130 309.5h1M1131 308.5h2M1133 307.5h1M1134 306.5h1M1135 305.5h1M1136 304.5h1M1137.5 302v2M1138 301.5h1M1139 300.5h1M1140.5 298v2M1141 297.5h1M1142 296.5h1M1143.5 294v2M1144 293.5h1M1145 292.5h1M1146 291.5h1M1147 290.5h1M1148 289.5h1M1149 288.5h1M1150 287.5h1M1151 286.5h5M1156 287.5h4M1160 288.5h2M1162 289.5h2M1164 290.5h2M1166 291.5h2M1168 292.5h2M1170 293.5h2M1172 294.5h2M1174 295.5h2M1176 296.5h5M1181 297.5h5M1186 296.5h2M1188 295.5h2M1190 294.5h2M1192 293.5h4M1196 292.5h4M1200 291.5h2M1202 290.5h2M1204 289.5h2M1206 288.5h1M1207 287.5h2M1209 286.5h2M1211 285.5h2M1213 284.5h2M1215 283.5h1M1216 282.5h1M1217 281.5h1M1218.5 279v2M1219 278.5h1M1220.5 276v2M1221 275.5h1M1222 274.5h1M1223.5 272v2M1224 271.5h1M1225.5 269v2M1226.5 267v2M1227.5 265v2M1228 264.5h1M1229.5 262v2M1230.5 260v2M1231.5 258v2M1232 257.5h1M1233.5 255v2M1234.5 253v2M1235.5 251v2M1236 250.5h1M1237.5 248v2M1238.5 246v2M1239.5 244v2M1240 243.5h1M1241 242.5h1M1242 241.5h1M1243.5 239v2M1244 238.5h1M1245 237.5h1M1246 236.5h1M1247.5 234v2M1248 233.5h1M1249 232.5h1M1250 231.5h1M1251 230.5h1M1252 229.5h1M1253 228.5h1M1254 227.5h1M1255 226.5h1M1256 225.5h1M1257 224.5h1M1258 223.5h1M1259 222.5h1M1260 221.5h1M1261 220.5h1M1262 219.5h1M1263.5 217v2M1264 216.5h1M1265 215.5h1M1266 214.5h1M1267 213.5h1M1268 212.5h1M1269 211.5h1M1270 210.5h1M1271 209.5h1M1272 208.5h2M1274 207.5h1M1275 206.5h1M1276 205.5h1M1277 204.5h2M1279 203.5h1M1280.5 201v2M1281 200.5h1M1282 199.5h1M1283.5 197v2M1284 196.5h1M1285.5 194v2M1286 193.5h1M1287.5 191v2M1288 190.5h1M1289.5 188v2M1290.5 186v2M1291 185.5h1M1292.5 183v2M1293 182.5h1M1294.5 180v2M1295.5 178v2M1296 177.5h1M1297.5 175v2M1298 174.5h1M1299 173.5h1M1300.5 171v2M1301 170.5h1M1302.5 168v2M1303 167.5h1M1304 166.5h1M1305 165.5h1M1306 164.5h1M1307 163.5h1M1308 162.5h1M1309 161.5h1M1310 160.5h1M1311 159.5h1M1312 158.5h1M1313 157.5h1M1314 156.5h1M1315 155.5h1M1316 154.5h1M1317 153.5h1M1318 152.5h2M1320 151.5h2M1322 150.5h5M1327 149.5h5M1332 148.5h4M1336 147.5h2M1338 146.5h2M1340 145.5h1M1341 144.5h2M1343 143.5h1M1344 142.5h2M1346 141.5h2M1348 140.5h2M1350 139.5h3" fill="none" stroke="#2ba662" stroke-width="1" shape-rendering="crispEdges"/></g>
<g shape-rendering="crispEdges"><path d="M0.5 352V466M8.5 350V380M16.5 346V392M24.5 355V388M32.5 369V404M40.5 356V398M48.5 355V407M56.5 379V426M64.5 379V411M72.5 390V415M80.5 395V442M88.5 412V495M96.5 440V500M104.5 445V493M112.5 455V485M120.5 453V484M128.5 466V532M136.5 473V523M144.5 477V513M152.5 481V512M160.5 453V493M168.5 463V521M176.5 489V530M184.5 246V517M192.5 285V331M200.5 280V303M208.5 300V356M216.5 298V346M224.5 321V425M232.5 374V442M240.5 381V433M248.5 389V428M256.5 386V418M264.5 276V417M272.5 340V436M280.5 340V390M288.5 365V421M296.5 367V394M304.5 350V388M312.5 356V380M320.5 318V371M328.5 327V361M336.5 339V361M344.5 321V329M352.5 326V355M360.5 327V344M368.5 287V333M376.5 293V324M384.5 292V320M392.5 291V309M400.5 288V316M408.5 303V334M416.5 321V347M424.5 323V368M432.5 335V362M440.5 347V363M448.5 309V350M456.5 302V324M464.5 308V330M472.5 303V340M480.5 295V330M488.5 296V310M496.5 294V332M504.5 318V348M512.5 302V354M520.5 296V344M528.5 316V338M536.5 318V333M544.5 299V322M552.5 291V309M560.5 282V305M568.5 282V496M576.5 454V502M584.5 541V567M592.5 422V559M600.5 398V516M608.5 392V438M616.5 330V417M624.5 347V398M632.5 366V397M640.5 390V442M648.5 426V452M656.5 392V437M664.5 380V434M672.5 416V441M680.5 421V437M688.5 406V443M696.5 408V435M704.5 410V442M712.5 398V442M720.5 357V412M728.5 360V398M736.5 372V417M744.5 365V413M752.5 338V381M760.5 309V363M768.5 290V323M776.5 310V328M784.5 310V335M792.5 311V349M800.5 312V347M808.5 342V376M816.5 327V357M824.5 368V377M832.5 355V380M840.5 346V370M848.5 331V356M856.5 333V376M864.5 361V383M872.5 358V366M880.5 334V362M888.5 340V403M896.5 364V394M904.5 344V430M912.5 378V413M920.5 381V416M928.5 380V417M936.5 353V397M944.5 346V366M952.5 341V373M960.5 325V356M968.5 327V345M976.5 279V343M984.5 294V336M992.5 281V323M1000.5 209V300M1008.5 238V262M1016.5 229V256M1024.5 228V256M1032.5 229V252M1040.5 230V254M1048.5 238V299M1056.5 253V280M1064.5 247V259M1072.5 239V279M1080.5 244V268M1088.5 231V255M1096.5 216V254M1104.5 211V254M1112.5 188V219M1120.5 169V200M1128.5 179V208M1136.5 170V206M1144.5 180V215M1152.5 164V200M1160.5 150V170M1168.5 133V163M1176.5 117V146M1184.5 120V145M1192.5 122V151M1200.5 119V136M1208.5 87V129M1216.5 70V103M1224.5 74V110M1232.5 106V141M1240.5 82V166M1248.5 67V106M1256.5 66V87M1264.5 56V80M1272.5 69V109M1280.5 83V104M1288.5 71V105M1296.5 68V85M1304.5 120V134M1312.5 115V170M1320.5 98V128M1328.5 100V143M1336.5 80V129M1344.5 81V108M1352.5 69V84" stroke="#000" stroke-width="1" fill="none"/><path d="M-2 357h5v90h-5zM6 356h5v18h-5zM14 355h5v18h-5zM22 355h5v23h-5zM30 376h5v17h-5zM38 383h5v11h-5zM46 383h5v8h-5zM54 390h5v18h-5zM62 392h5v16h-5zM70 391h5v8h-5zM78 398h5v27h-5zM86 424h5v71h-5zM94 453h5v41h-5zM102 445h5v38h-5zM110 471h5v7h-5zM118 466h5v6h-5zM126 466h5v54h-5zM134 480h5v40h-5zM142 480h5v13h-5zM150 482h5v12h-5zM158 469h5v14h-5zM166 469h5v42h-5zM174 507h5v4h-5zM182 301h5v207h-5zM190 289h5v13h-5zM198 288h5v14h-5zM206 301h5v37h-5zM214 326h5v12h-5zM222 325h5v87h-5zM230 411h5v10h-5zM238 392h5v30h-5zM246 391h5v13h-5zM254 402h5v6h-5zM262 354h5v53h-5zM270 354h5v20h-5zM278 373h5v3h-5zM286 373h5v13h-5zM294 377h5v9h-5zM302 359h5v19h-5zM310 359h5v9h-5zM318 349h5v19h-5zM326 340h5v10h-5zM334 339h5v10h-5zM342 321h5v6h-5zM350 329h5v9h-5zM358 331h5v7h-5zM366 300h5v32h-5zM374 300h5v17h-5zM382 295h5v22h-5zM390 295h5v13h-5zM398 303h5v4h-5zM406 303h5v20h-5zM414 322h5v18h-5zM422 338h5v2h-5zM430 338h5v24h-5zM438 350h5v11h-5zM446 319h5v30h-5zM454 309h5v12h-5zM462 309h5v9h-5zM470 312h5v6h-5zM478 298h5v14h-5zM486 297h5v5h-5zM494 302h5v23h-5zM502 324h5v2h-5zM510 304h5v22h-5zM518 305h5v20h-5zM526 324h5v8h-5zM534 319h5v13h-5zM542 307h5v14h-5zM550 296h5v12h-5zM558 282h5v15h-5zM566 283h5v213h-5zM574 493h5v4h-5zM582 558h5v4h-5zM590 472h5v85h-5zM598 429h5v44h-5zM606 408h5v22h-5zM614 390h5v20h-5zM622 369h5v22h-5zM630 370h5v26h-5zM638 393h5v48h-5zM646 429h5v12h-5zM654 427h5v3h-5zM662 419h5v9h-5zM670 419h5v11h-5zM678 428h5v2h-5zM686 413h5v15h-5zM694 413h5v17h-5zM702 429h5v4h-5zM710 410h5v24h-5zM718 365h5v46h-5zM726 365h5v14h-5zM734 379h5v27h-5zM742 375h5v31h-5zM750 353h5v23h-5zM758 317h5v36h-5zM766 316h5v2h-5zM774 316h5v9h-5zM782 318h5v5h-5zM790 315h5v4h-5zM798 314h5v30h-5zM806 343h5v5h-5zM814 347h5v6h-5zM822 371h5v3h-5zM830 368h5v2h-5zM838 353h5v16h-5zM846 339h5v14h-5zM854 338h5v25h-5zM862 361h5v1h-5zM870 362h5v1h-5zM878 346h5v16h-5zM886 346h5v48h-5zM894 374h5v20h-5zM902 374h5v35h-5zM910 383h5v26h-5zM918 382h5v32h-5zM926 396h5v17h-5zM934 357h5v40h-5zM942 356h5v3h-5zM950 348h5v12h-5zM958 336h5v13h-5zM966 336h5v6h-5zM974 294h5v47h-5zM982 294h5v20h-5zM990 295h5v20h-5zM998 248h5v48h-5zM1006 239h5v10h-5zM1014 232h5v9h-5zM1022 232h5v2h-5zM1030 233h5v13h-5zM1038 240h5v6h-5zM1046 240h5v30h-5zM1054 258h5v14h-5zM1062 250h5v9h-5zM1070 251h5v11h-5zM1078 248h5v14h-5zM1086 248h5v1h-5zM1094 221h5v28h-5zM1102 213h5v9h-5zM1110 192h5v22h-5zM1118 180h5v16h-5zM1126 180h5v16h-5zM1134 188h5v9h-5zM1142 188h5v4h-5zM1150 164h5v28h-5zM1158 153h5v13h-5zM1166 135h5v23h-5zM1174 124h5v12h-5zM1182 123h5v14h-5zM1190 134h5v3h-5zM1198 120h5v15h-5zM1206 92h5v29h-5zM1214 80h5v13h-5zM1222 81h5v28h-5zM1230 108h5v25h-5zM1238 98h5v34h-5zM1246 74h5v25h-5zM1254 67h5v8h-5zM1262 69h5v1h-5zM1270 69h5v36h-5zM1278 100h5v1h-5zM1286 76h5v28h-5zM1294 74h5v3h-5zM1302 121h5v10h-5zM1310 116h5v14h-5zM1318 115h5v2h-5zM1326 116h5v10h-5zM1334 99h5v26h-5zM1342 82h5v23h-5zM1350 81h5v3h-5z" fill="#000"/><path d="M-1 358h3v88h-3zM15 356h3v16h-3zM39 384h3v9h-3zM63 393h3v14h-3zM95 454h3v39h-3zM111 472h3v5h-3zM119 467h3v4h-3zM135 481h3v38h-3zM151 483h3v10h-3zM159 470h3v12h-3zM175 508h3v2h-3zM183 302h3v205h-3zM191 290h3v11h-3zM215 327h3v10h-3zM239 393h3v28h-3zM263 355h3v51h-3zM279 374h3v1h-3zM295 378h3v7h-3zM303 360h3v17h-3zM319 350h3v17h-3zM327 341h3v8h-3zM359 332h3v5h-3zM367 301h3v30h-3zM383 296h3v20h-3zM399 304h3v2h-3zM439 351h3v9h-3zM447 320h3v28h-3zM455 310h3v10h-3zM471 313h3v4h-3zM479 299h3v12h-3zM511 305h3v20h-3zM535 320h3v11h-3zM543 308h3v12h-3zM551 297h3v10h-3zM559 283h3v13h-3zM591 473h3v83h-3zM599 430h3v42h-3zM607 409h3v20h-3zM615 391h3v18h-3zM623 370h3v20h-3zM647 430h3v10h-3zM655 428h3v1h-3zM663 420h3v7h-3zM687 414h3v13h-3zM711 411h3v22h-3zM719 366h3v44h-3zM743 376h3v29h-3zM751 354h3v21h-3zM759 318h3v34h-3zM783 319h3v3h-3zM791 316h3v2h-3zM823 372h3v1h-3zM839 354h3v14h-3zM847 340h3v12h-3zM879 347h3v14h-3zM895 375h3v18h-3zM911 384h3v24h-3zM927 397h3v15h-3zM935 358h3v38h-3zM951 349h3v10h-3zM959 337h3v11h-3zM975 295h3v45h-3zM991 296h3v18h-3zM999 249h3v46h-3zM1007 240h3v8h-3zM1015 233h3v7h-3zM1039 241h3v4h-3zM1055 259h3v12h-3zM1063 251h3v7h-3zM1079 249h3v12h-3zM1095 222h3v26h-3zM1103 214h3v7h-3zM1111 193h3v20h-3zM1119 181h3v14h-3zM1135 189h3v7h-3zM1151 165h3v26h-3zM1159 154h3v11h-3zM1167 136h3v21h-3zM1175 125h3v10h-3zM1191 135h3v1h-3zM1199 121h3v13h-3zM1207 93h3v27h-3zM1215 81h3v11h-3zM1239 99h3v32h-3zM1247 75h3v23h-3zM1255 68h3v6h-3zM1287 77h3v26h-3zM1295 75h3v1h-3zM1311 117h3v12h-3zM1335 100h3v24h-3zM1343 83h3v21h-3zM1351 82h3v1h-3z" fill="#fff"/></g>
<rect x="1267" y="96" width="89" height="10" fill="#00ff00" shape-rendering="crispEdges"/>
<g shape-rendering="crispEdges">
<rect x="-1" y="29" width="6" height="6" fill="#ff0000"/><rect x="1" y="31" width="2" height="2" fill="#fff"/>
<rect x="1622" y="29" width="6" height="6" fill="#ff0000"/><rect x="1624" y="31" width="2" height="2" fill="#fff"/>
<rect x="0" y="53" width="1.2" height="6" fill="#ff0000"/>
<rect x="1622" y="53" width="6" height="6" fill="#ff0000"/><rect x="1624" y="55" width="2" height="2" fill="#fff"/>
<rect x="0" y="100" width="1.2" height="6" fill="#32cd32"/>
<rect x="1622" y="100" width="6" height="6" fill="#32cd32"/><rect x="1624" y="102" width="2" height="2" fill="#fff"/>
<rect x="-1" y="130" width="6" height="6" fill="#0000ff"/><rect x="1" y="132" width="2" height="2" fill="#fff"/>
<rect x="1622" y="130" width="6" height="6" fill="#0000ff"/><rect x="1624" y="132" width="2" height="2" fill="#fff"/>
<rect x="-1" y="158" width="6" height="6" fill="#0000ff"/><rect x="1" y="160" width="2" height="2" fill="#fff"/>
<rect x="1622" y="158" width="6" height="6" fill="#0000ff"/><rect x="1624" y="160" width="2" height="2" fill="#fff"/>
</g>
<path d="M1362 29h9.4l-4.7 5.2z" fill="#c0c0c0"/>
<rect x="1.2" y="45" width="222.8" height="69" fill="#fff"/>
<g shape-rendering="crispEdges" fill="#000">
<rect x="0" y="28" width="1629" height="1"/>
<rect x="1628" y="28" width="1" height="901"/>
<rect x="0" y="581" width="1629" height="1"/>
<rect x="0" y="583" width="1629" height="1"/>
<rect x="0" y="766" width="1629" height="1"/>
<rect x="0" y="768" width="1629" height="1"/>
<rect x="0" y="928" width="1629" height="1"/>
<rect x="1629" y="116" width="2.4" height="1"/>
<rect x="1629" y="149" width="2.4" height="1"/>
<rect x="1629" y="182" width="2.4" height="1"/>
<rect x="1629" y="215" width="2.4" height="1"/>
<rect x="1629" y="248" width="2.4" height="1"/>
<rect x="1629" y="281" width="2.4" height="1"/>
<rect x="1629" y="314" width="2.4" height="1"/>
<rect x="1629" y="347" width="2.4" height="1"/>
<rect x="1629" y="380" width="2.4" height="1"/>
<rect x="1629" y="413" width="2.4" height="1"/>
<rect x="1629" y="446" width="2.4" height="1"/>
<rect x="1629" y="479" width="2.4" height="1"/>
<rect x="1629" y="512" width="2.4" height="1"/>
<rect x="1629" y="545" width="2.4" height="1"/>
<rect x="1629" y="578" width="2.4" height="1"/>
<rect x="1629" y="50" width="2.4" height="1"/>
<rect x="1629" y="83" width="2.4" height="1"/>
<rect x="1629" y="585" width="1.5" height="1"/>
<rect x="1629" y="661" width="1.5" height="1"/>
<rect x="1629" y="765" width="1.5" height="1"/>
<rect x="1629" y="770" width="1.5" height="1"/>
<rect x="0" y="929" width="1" height="3"/>
<rect x="64" y="929" width="1" height="3"/>
<rect x="128" y="929" width="1" height="3"/>
<rect x="192" y="929" width="1" height="3"/>
<rect x="256" y="929" width="1" height="3"/>
<rect x="320" y="929" width="1" height="3"/>
<rect x="384" y="929" width="1" height="3"/>
<rect x="448" y="929" width="1" height="3"/>
<rect x="512" y="929" width="1" height="3"/>
<rect x="576" y="929" width="1" height="3"/>
<rect x="640" y="929" width="1" height="3"/>
<rect x="704" y="929" width="1" height="3"/>
<rect x="768" y="929" width="1" height="3"/>
<rect x="832" y="929" width="1" height="3"/>
<rect x="896" y="929" width="1" height="3"/>
<rect x="960" y="929" width="1" height="3"/>
<rect x="1024" y="929" width="1" height="3"/>
<rect x="1088" y="929" width="1" height="3"/>
<rect x="1152" y="929" width="1" height="3"/>
<rect x="1216" y="929" width="1" height="3"/>
<rect x="1280" y="929" width="1" height="3"/>
<rect x="1344" y="929" width="1" height="3"/>
</g>
<path d="M0.5 661V748M8.5 661V742M16.5 661V736M24.5 661V732M32.5 661V730M40.5 661V727M48.5 661V724M56.5 661V723M64.5 661V720M72.5 661V718M80.5 661V718M88.5 661V725M96.5 661V727M104.5 661V730M112.5 661V730M120.5 661V729M128.5 661V734M136.5 661V732M144.5 661V731M152.5 661V728M160.5 661V724M168.5 661V725M176.5 661V724M184.5 661V699M192.5 661V678M200.5 661V662M208.5 656V662M216.5 648V662M224.5 652V662M232.5 657V662M240.5 657V662M248.5 658V662M256.5 657V662M264.5 655V662M272.5 654V662M280.5 653V662M288.5 654V662M296.5 653V662M304.5 651V662M312.5 650V662M320.5 648V662M328.5 645V662M336.5 644V662M344.5 641V662M352.5 640V662M360.5 639V662M368.5 635V662M376.5 634V662M384.5 631V662M392.5 630V662M400.5 630V662M408.5 632V662M416.5 636V662M424.5 639V662M432.5 644V662M440.5 648V662M448.5 647V662M456.5 645V662M464.5 645V662M472.5 644V662M480.5 643V662M488.5 642V662M496.5 645V662M504.5 646V662M512.5 646V662M520.5 648V662M528.5 650V662M536.5 651V662M544.5 650V662M552.5 648V662M560.5 646V662M568.5 661V667M576.5 661V685M584.5 661V706M592.5 661V712M600.5 661V711M608.5 661V707M616.5 661V701M624.5 661V693M632.5 661V691M640.5 661V694M648.5 661V694M656.5 661V694M664.5 661V692M672.5 661V692M680.5 661V690M688.5 661V688M696.5 661V687M704.5 661V687M712.5 661V684M720.5 661V676M728.5 661V672M736.5 661V671M744.5 661V667M752.5 661V662M760.5 654V662M768.5 647V662M776.5 643V662M784.5 639V662M792.5 636V662M800.5 637V662M808.5 639V662M816.5 641V662M824.5 645V662M832.5 648V662M840.5 649V662M848.5 648V662M856.5 650V662M864.5 652V662M872.5 654V662M880.5 653V662M888.5 659V662M896.5 660V662M904.5 661V665M912.5 661V666M920.5 661V671M928.5 661V672M936.5 661V669M944.5 661V665M952.5 661V662M960.5 660V662M968.5 657V662M976.5 650V662M984.5 647V662M992.5 642V662M1000.5 634V662M1008.5 625V662M1016.5 619V662M1024.5 615V662M1032.5 613V662M1040.5 612V662M1048.5 615V662M1056.5 617V662M1064.5 618V662M1072.5 620V662M1080.5 621V662M1088.5 622V662M1096.5 621V662M1104.5 619V662M1112.5 616V662M1120.5 612V662M1128.5 612V662M1136.5 611V662M1144.5 612V662M1152.5 610V662M1160.5 607V662M1168.5 604V662M1176.5 601V662M1184.5 600V662M1192.5 601V662M1200.5 600V662M1208.5 597V662M1216.5 594V662M1224.5 595V662M1232.5 600V662M1240.5 601V662M1248.5 599V662M1256.5 598V662M1264.5 598V662M1272.5 602V662M1280.5 606V662M1288.5 607V662M1296.5 608V662M1304.5 616V662M1312.5 621V662M1320.5 626V662M1328.5 631V662M1336.5 632V662M1344.5 632V662M1352.5 631V662" stroke="#c0c0c0" stroke-width="1" fill="none" shape-rendering="crispEdges"/><path d="M0 756.5h1M4 754.5h2M6 753.5h1M10 751.5h2M12 750.5h1M16 748.5h3M22 746.5h2M24 745.5h1M28 744.5h1M29 743.5h2M34 742.5h2M36 741.5h1M40 740.5h3M46 739.5h3M52 737.5h2M54 736.5h1M58 734.5h2M60 733.5h1M64 732.5h1M65 731.5h2M70 729.5h1M71 728.5h2M76 727.5h1M77 726.5h2M82 725.5h3M88 724.5h3M94 724.5h3M100 724.5h3M106 724.5h3M112 724.5h3M118 724.5h2M120 725.5h1M124 725.5h2M126 726.5h1M130 726.5h1M131 727.5h2M136 728.5h3M142 729.5h2M144 730.5h1M148 730.5h3M154 729.5h3M160 729.5h3M166 729.5h3M172 729.5h3M178 727.5h2M180 726.5h1M184 724.5h1M185 723.5h2M190 720.5h1M191 719.5h1M192 718.5h1M196 715.5h1M197 714.5h2M202 710.5h1M203 709.5h1M203 708.5h1M207 704.5h1M208 703.5h1M209 702.5h1M212 698.5h1M213 697.5h1M214 696.5h1M218 692.5h1M219 691.5h1M219 690.5h1M223 686.5h1M224 685.5h1M225 684.5h1M229 680.5h1M230 679.5h1M231 678.5h1M235 674.5h2M237 673.5h1M241 669.5h1M242 668.5h1M243 667.5h1M247 664.5h1M248 663.5h1M249 662.5h1M253 660.5h1M254 659.5h2M259 657.5h2M261 656.5h1M265 655.5h3M271 654.5h3M277 654.5h3M283 654.5h1M284 655.5h2M289 655.5h3M295 655.5h3M301 654.5h3M307 654.5h2M309 653.5h1M313 653.5h3M319 652.5h3M325 651.5h3M331 650.5h2M333 649.5h1M337 649.5h1M338 648.5h2M343 647.5h3M349 646.5h3M355 645.5h3M361 645.5h1M362 644.5h2M367 643.5h3M373 642.5h1M374 641.5h2M379 640.5h2M381 639.5h1M385 638.5h3M391 637.5h3M397 636.5h1M398 635.5h2M403 634.5h3M409 633.5h3M415 633.5h3M421 633.5h3M427 633.5h3M433 634.5h3M439 634.5h1M440 635.5h2M445 635.5h1M446 636.5h2M451 637.5h3M457 638.5h3M463 639.5h3M469 640.5h1M470 641.5h2M475 641.5h1M476 642.5h2M481 642.5h3M487 643.5h3M493 644.5h3M499 644.5h3M505 644.5h3M511 644.5h3M517 644.5h3M523 644.5h3M529 644.5h3M535 645.5h3M541 646.5h3M547 646.5h3M553 646.5h3M559 646.5h1M560 647.5h2M565 648.5h1M566 649.5h2M571 651.5h1M572 652.5h2M577 655.5h1M578 656.5h2M583 660.5h1M584 661.5h2M589 665.5h1M590 666.5h1M591 667.5h1M595 670.5h1M596 671.5h1M597 672.5h1M601 675.5h1M602 676.5h1M603 677.5h1M607 681.5h1M608 682.5h2M613 685.5h1M614 686.5h1M615 687.5h1M619 689.5h1M620 690.5h2M625 693.5h2M627 694.5h1M631 696.5h1M632 697.5h2M637 699.5h2M639 700.5h1M643 700.5h2M645 701.5h1M649 701.5h2M651 700.5h1M655 700.5h1M656 699.5h2M661 698.5h3M667 697.5h3M673 696.5h1M674 695.5h2M679 694.5h3M685 693.5h3M691 692.5h3M697 692.5h3M703 692.5h3M709 691.5h3M715 690.5h2M717 689.5h1M721 688.5h2M723 687.5h1M727 686.5h1M728 685.5h2M733 684.5h3M739 683.5h1M740 682.5h2M745 680.5h2M747 679.5h1M751 677.5h3M757 675.5h1M758 674.5h2M763 672.5h1M764 671.5h2M769 669.5h1M770 668.5h1M771 667.5h1M775 664.5h1M776 663.5h2M781 660.5h2M783 659.5h1M787 657.5h1M788 656.5h2M793 654.5h1M794 653.5h2M799 650.5h1M800 649.5h2M805 647.5h2M807 646.5h1M811 645.5h1M812 644.5h2M817 643.5h1M818 642.5h2M823 641.5h3M829 641.5h3M835 641.5h3M841 641.5h3M847 641.5h3M853 642.5h2M855 643.5h1M859 644.5h3M865 645.5h3M871 646.5h3M877 647.5h2M879 648.5h1M883 649.5h3M889 650.5h2M891 651.5h1M895 651.5h1M896 652.5h2M901 653.5h2M903 654.5h1M907 655.5h3M913 656.5h1M914 657.5h2M919 658.5h3M925 660.5h2M927 661.5h1M931 662.5h3M937 663.5h3M943 664.5h3M949 665.5h3M955 665.5h1M956 666.5h2M961 666.5h2M963 665.5h1M967 665.5h1M968 664.5h2M973 663.5h3M979 662.5h3M985 660.5h3M991 658.5h2M993 657.5h1M997 655.5h1M998 654.5h1M999 653.5h1M1003 650.5h2M1005 649.5h1M1009 647.5h1M1010 646.5h1M1011 645.5h1M1015 642.5h1M1016 641.5h1M1017 640.5h1M1021 638.5h2M1023 637.5h1M1027 635.5h1M1028 634.5h2M1033 631.5h2M1035 630.5h1M1039 627.5h2M1041 626.5h1M1045 624.5h2M1047 623.5h1M1051 621.5h3M1057 619.5h3M1063 618.5h3M1069 617.5h2M1071 616.5h1M1075 616.5h3M1081 616.5h3M1087 616.5h3M1093 617.5h3M1099 617.5h3M1105 617.5h3M1111 617.5h3M1117 617.5h3M1123 617.5h3M1129 617.5h3M1135 616.5h3M1141 615.5h3M1147 615.5h1M1148 614.5h2M1153 614.5h1M1154 613.5h2M1159 612.5h3M1165 611.5h1M1166 610.5h2M1171 609.5h3M1177 608.5h2M1179 607.5h1M1183 607.5h1M1184 606.5h2M1189 605.5h3M1195 605.5h1M1196 604.5h2M1201 604.5h2M1203 603.5h1M1207 603.5h1M1208 602.5h2M1213 601.5h2M1215 600.5h1M1219 600.5h1M1220 599.5h2M1225 599.5h3M1231 598.5h3M1237 598.5h3M1243 598.5h1M1244 597.5h2M1249 597.5h3M1255 597.5h3M1261 597.5h3M1267 597.5h3M1273 597.5h3M1279 598.5h3M1285 599.5h2M1287 600.5h1M1291 601.5h3M1297 602.5h3M1303 603.5h3M1309 604.5h2M1311 605.5h1M1315 606.5h1M1316 607.5h2M1321 609.5h3M1327 611.5h1M1328 612.5h2M1333 614.5h1M1334 615.5h2M1339 617.5h1M1340 618.5h2M1345 619.5h1M1346 620.5h2" fill="none" stroke="#ff0000" stroke-width="1" shape-rendering="crispEdges"/>
<path d="M1 801.5H1628" stroke="#c0c0c0" stroke-width="1" stroke-dasharray="3 3" fill="none" shape-rendering="crispEdges"/><path d="M1 848.5H1628" stroke="#c0c0c0" stroke-width="1" stroke-dasharray="3 3" fill="none" shape-rendering="crispEdges"/><path d="M1 904.5H1628" stroke="#c0c0c0" stroke-width="1" stroke-dasharray="3 3" fill="none" shape-rendering="crispEdges"/><path d="M0 858.5h4M4 859.5h3M7 860.5h2M9 859.5h3M12 858.5h3M15 857.5h3M18 858.5h3M21 859.5h2M23 860.5h4M27 861.5h4M31 862.5h3M34 861.5h4M38 860.5h7M45 861.5h5M50 862.5h3M53 863.5h2M55 864.5h2M57 863.5h2M59 862.5h2M61 861.5h2M63 860.5h4M67 861.5h5M72 862.5h2M74 863.5h2M76 864.5h2M78 865.5h2M80 866.5h1M81 867.5h1M82.5 868v2M83 870.5h1M84 871.5h1M85 872.5h1M86.5 873v2M87 875.5h1M88 876.5h1M89.5 874v2M90 873.5h1M91 872.5h1M92 871.5h1M93.5 869v2M94 868.5h1M95 867.5h1M96 866.5h2M98 867.5h2M100 868.5h2M102 869.5h2M104 870.5h2M106 869.5h4M110 868.5h4M114 867.5h4M118 866.5h3M121 867.5h1M122 868.5h1M123 869.5h1M124 870.5h1M125 871.5h1M126 872.5h1M127 873.5h1M128 874.5h1M129 873.5h1M130 872.5h1M131.5 870v2M132 869.5h1M133 868.5h1M134 867.5h1M135 866.5h1M136 865.5h3M139 866.5h3M142 867.5h4M146 866.5h3M149 865.5h2M151 864.5h3M154 863.5h2M156 862.5h3M159 861.5h2M161 862.5h1M162 863.5h1M163 864.5h1M164 865.5h2M166 866.5h1M167 867.5h1M168 868.5h4M172 867.5h4M176.5 864v3M177.5 860v4M178.5 855v5M179.5 850v5M180.5 846v4M181.5 841v5M182.5 836v5M183.5 832v4M184.5 829v3M185 829.5h4M189 828.5h5M194 829.5h3M197 830.5h2M199 831.5h2M201 832.5h1M202 833.5h1M203 834.5h2M205 835.5h1M206 836.5h1M207 837.5h1M208 838.5h2M210 837.5h4M214 836.5h2M216.5 836v2M217.5 838v2M218.5 840v2M219.5 842v2M220 844.5h1M221.5 845v2M222.5 847v2M223.5 849v2M224 851.5h3M227 852.5h4M231 853.5h2M233 852.5h2M235 851.5h1M236 850.5h2M238 849.5h2M240 848.5h2M242 849.5h4M246 850.5h11M257 849.5h1M258 848.5h1M259.5 846v2M260 845.5h1M261 844.5h1M262 843.5h1M263 842.5h1M264 841.5h2M266 842.5h2M268 843.5h2M270 844.5h2M272 845.5h11M283 846.5h3M286 847.5h6M292 846.5h5M297 845.5h2M299 844.5h2M301 843.5h2M303 842.5h4M307 843.5h4M311 844.5h2M313 843.5h2M315 842.5h2M317 841.5h2M319 840.5h3M322 839.5h4M326 838.5h5M331 839.5h4M335 840.5h2M337 839.5h2M339 838.5h1M340 837.5h2M342 836.5h1M343 835.5h3M346 836.5h2M348 837.5h2M350 838.5h2M352 839.5h2M354 838.5h4M358 837.5h3M361 836.5h1M362 835.5h1M363 834.5h1M364 833.5h1M365 832.5h2M367 831.5h1M368 830.5h1M369 831.5h2M371 832.5h2M373 833.5h1M374 834.5h2M376 835.5h1M377 834.5h2M379 833.5h2M381 832.5h2M383 831.5h3M386 832.5h2M388 833.5h2M390 834.5h2M392 835.5h4M396 834.5h5M401 835.5h2M403 836.5h1M404 837.5h1M405 838.5h2M407 839.5h1M408 840.5h1M409 841.5h2M411 842.5h1M412 843.5h1M413 844.5h2M415 845.5h1M416 846.5h9M425 847.5h1M426 848.5h1M427 849.5h2M429 850.5h1M430 851.5h1M431 852.5h1M432 853.5h1M433 852.5h3M436 851.5h3M439 850.5h2M441.5 848v2M442 847.5h1M443 846.5h1M444 845.5h1M445.5 843v2M446 842.5h1M447 841.5h1M448 840.5h1M449 839.5h3M452 838.5h3M455 837.5h3M458 838.5h3M461 839.5h2M463 840.5h3M466 839.5h4M470 838.5h3M473 837.5h2M475 836.5h2M477 835.5h2M479 834.5h4M483 835.5h4M487 836.5h2M489 837.5h1M490 838.5h1M491.5 839v2M492 841.5h1M493 842.5h1M494 843.5h1M495 844.5h1M496 845.5h4M500 846.5h5M505 845.5h1M506 844.5h1M507 843.5h1M508 842.5h1M509 841.5h1M510 840.5h1M511 839.5h1M512 838.5h1M513 839.5h1M514 840.5h1M515 841.5h1M516 842.5h1M517 843.5h1M518 844.5h1M519 845.5h1M520 846.5h2M522 847.5h2M524 848.5h3M527 849.5h2M529 848.5h2M531 847.5h1M532 846.5h1M533 845.5h2M535 844.5h1M536 843.5h2M538 842.5h2M540 841.5h2M542 840.5h2M544 839.5h2M546 838.5h2M548 837.5h2M550 836.5h2M552 835.5h2M554 834.5h1M555 833.5h2M557 832.5h2M559 831.5h1M560.5 832v4M561.5 836v6M562.5 842v7M563.5 849v6M564.5 855v7M565.5 862v6M566.5 868v7M567.5 875v6M568.5 881v3M569 883.5h8M577 884.5h1M578 885.5h1M579 886.5h2M581 887.5h1M582 888.5h1M583 889.5h1M584.5 889v2M585.5 886v3M586.5 883v3M587.5 880v3M588.5 877v3M589.5 874v3M590.5 871v3M591.5 868v3M592 867.5h1M593.5 865v2M594 864.5h1M595 863.5h1M596 862.5h1M597 861.5h1M598 860.5h1M599.5 858v2M600 857.5h2M602 856.5h2M604 855.5h2M606 854.5h2M608 853.5h3M611 852.5h3M614 851.5h2M616 850.5h3M619 849.5h2M621 848.5h2M623 847.5h2M625 848.5h2M627 849.5h1M628 850.5h2M630 851.5h1M631 852.5h1M632 853.5h2M634 854.5h1M635 855.5h1M636 856.5h1M637 857.5h2M639 858.5h1M640 859.5h2M642 858.5h5M647 857.5h11M658 856.5h4M662 855.5h5M667 856.5h4M671 857.5h10M681 856.5h2M683 855.5h2M685 854.5h2M687 853.5h3M690 854.5h3M693 855.5h2M695 856.5h6M701 857.5h4M705 856.5h1M706 855.5h2M708 854.5h1M709 853.5h1M710 852.5h2M712.5 850v2M713 849.5h1M714.5 847v2M715 846.5h1M716.5 844v2M717 843.5h1M718.5 841v2M719 840.5h1M720 839.5h2M722 840.5h2M724 841.5h2M726 842.5h2M728 843.5h1M729 844.5h2M731 845.5h1M732 846.5h1M733 847.5h1M734 848.5h1M735 849.5h1M736 850.5h1M737 849.5h1M738 848.5h1M739 847.5h1M740 846.5h1M741 845.5h1M742 844.5h1M743 843.5h1M744 842.5h1M745 841.5h2M747 840.5h2M749 839.5h2M751 838.5h2M753 837.5h1M754 836.5h1M755 835.5h1M756 834.5h1M757 833.5h1M758 832.5h1M759 831.5h1M760 830.5h10M770 831.5h3M773 832.5h2M775 833.5h5M780 832.5h8M788 831.5h5M793.5 832v2M794 834.5h1M795 835.5h1M796 836.5h1M797.5 837v2M798 839.5h1M799 840.5h1M800 841.5h5M805 842.5h6M811 843.5h4M815 844.5h2M817 845.5h2M819 846.5h1M820 847.5h1M821 848.5h2M823 849.5h1M824 850.5h3M827 849.5h5M832 848.5h2M834 847.5h2M836 846.5h1M837 845.5h2M839 844.5h1M840 843.5h2M842 842.5h2M844 841.5h2M846 840.5h1M847 839.5h2M849 840.5h1M850 841.5h1M851.5 842v2M852 844.5h1M853 845.5h1M854 846.5h1M855 847.5h1M856 848.5h17M873 847.5h1M874 846.5h2M876 845.5h1M877 844.5h1M878 843.5h2M880.5 842v2M881.5 844v2M882.5 846v2M883.5 848v2M884.5 850v2M885.5 852v2M886.5 854v3M887 857.5h1M888 858.5h2M890 857.5h1M891 856.5h1M892 855.5h1M893 854.5h1M894 853.5h2M896 852.5h1M897.5 853v2M898 855.5h1M899 856.5h1M900 857.5h1M901.5 858v2M902 860.5h1M903 861.5h1M904 862.5h1M905 861.5h1M906.5 859v2M907 858.5h1M908 857.5h1M909 856.5h1M910 855.5h1M911 854.5h1M912 853.5h1M913 854.5h1M914 855.5h1M915 856.5h1M916 857.5h1M917 858.5h1M918 859.5h1M919 860.5h1M920 861.5h1M921 860.5h1M922 859.5h2M924 858.5h1M925 857.5h2M927 856.5h1M928 855.5h1M929.5 853v2M930 852.5h1M931 851.5h1M932.5 849v2M933 848.5h1M934.5 846v2M935 845.5h1M936 844.5h9M945 843.5h3M948 842.5h3M951 841.5h2M953 840.5h3M956 839.5h3M959 838.5h4M963 839.5h4M967 840.5h1M968.5 839v2M969 838.5h1M970.5 836v2M971 835.5h1M972.5 833v2M973 832.5h1M974.5 830v2M975 829.5h1M976 828.5h1M977 829.5h1M978 830.5h1M979 831.5h2M981 832.5h1M982 833.5h1M983 834.5h1M984 835.5h1M985 834.5h2M987 833.5h1M988 832.5h2M990 831.5h1M991 830.5h2M993.5 828v2M994 827.5h1M995 826.5h1M996 825.5h1M997 824.5h1M998 823.5h1M999.5 821v2M1000 820.5h6M1006 819.5h6M1012 818.5h13M1025 819.5h2M1027 820.5h1M1028 821.5h1M1029 822.5h2M1031 823.5h1M1032 824.5h4M1036 823.5h4M1040.5 823v2M1041 825.5h1M1042.5 826v2M1043 828.5h1M1044.5 829v2M1045 831.5h1M1046.5 832v2M1047 834.5h1M1048 835.5h2M1050 834.5h2M1052 833.5h3M1055 832.5h3M1058 831.5h4M1062 830.5h3M1065 831.5h2M1067 832.5h2M1069 833.5h1M1070 834.5h2M1072 835.5h1M1073 834.5h2M1075 833.5h2M1077 832.5h2M1079 831.5h10M1089 830.5h1M1090 829.5h1M1091 828.5h1M1092 827.5h1M1093 826.5h1M1094 825.5h1M1095 824.5h1M1096 823.5h2M1098 822.5h4M1102 821.5h3M1105 820.5h2M1107 819.5h1M1108 818.5h2M1110 817.5h1M1111 816.5h3M1114 815.5h3M1117 814.5h4M1121 815.5h1M1122 816.5h1M1123 817.5h1M1124 818.5h1M1125 819.5h1M1126 820.5h1M1127 821.5h1M1128 822.5h2M1130 821.5h4M1134 820.5h6M1140 821.5h5M1145 820.5h2M1147 819.5h1M1148 818.5h2M1150 817.5h1M1151 816.5h1M1152 815.5h3M1155 814.5h2M1157 813.5h2M1159 812.5h2M1161 811.5h3M1164 810.5h3M1167 809.5h2M1169 808.5h3M1172 807.5h3M1175 806.5h2M1177 807.5h1M1178 808.5h1M1179 809.5h1M1180 810.5h1M1181 811.5h1M1182 812.5h1M1183 813.5h1M1184 814.5h4M1188 813.5h5M1193 812.5h3M1196 811.5h3M1199 810.5h2M1201 809.5h1M1202 808.5h2M1204 807.5h1M1205 806.5h1M1206 805.5h2M1208 804.5h2M1210 803.5h3M1213 802.5h3M1216.5 802v2M1217.5 804v2M1218.5 806v2M1219.5 808v2M1220.5 810v2M1221.5 812v3M1222.5 815v2M1223.5 817v2M1224 819.5h1M1225.5 820v2M1226 822.5h1M1227.5 823v2M1228 825.5h1M1229 826.5h1M1230.5 827v2M1231 829.5h1M1232 830.5h1M1233 829.5h1M1234 828.5h1M1235 827.5h1M1236 826.5h1M1237 825.5h1M1238 824.5h1M1239 823.5h1M1240 822.5h1M1241 821.5h2M1243 820.5h1M1244 819.5h2M1246 818.5h1M1247 817.5h3M1250 816.5h4M1254 815.5h6M1260 816.5h4M1264.5 816v2M1265.5 818v2M1266.5 820v2M1267.5 822v2M1268.5 824v2M1269 826.5h1M1270.5 827v2M1271.5 829v2M1272 831.5h9M1281 830.5h1M1282 829.5h2M1284 828.5h1M1285 827.5h1M1286 826.5h2M1288 825.5h4M1292 824.5h4M1296.5 824v2M1297.5 826v3M1298.5 829v3M1299.5 832v3M1300.5 835v3M1301.5 838v3M1302.5 841v2M1303.5 843v3M1304.5 846v2M1305 846.5h2M1307 845.5h1M1308 844.5h2M1310 843.5h2M1312 842.5h9M1321 843.5h2M1323 844.5h2M1325 845.5h2M1327 846.5h2M1329 845.5h1M1330 844.5h1M1331 843.5h1M1332 842.5h1M1333 841.5h1M1334 840.5h1M1335 839.5h1M1336 838.5h1M1337 837.5h2M1339 836.5h1M1340 835.5h2M1342 834.5h2M1344 833.5h4M1348 832.5h5" fill="none" stroke="#1e90ff" stroke-width="1" shape-rendering="crispEdges"/>
<g font-family='"Liberation Sans", sans-serif'>
<text transform="translate(1634 54) scale(0.913 1)" font-size="10.0" fill="#000" text-anchor="start" font-weight="normal"  xml:space="preserve">108.290</text>
<text transform="translate(1634 119.9) scale(0.913 1)" font-size="10.0" fill="#000" text-anchor="start" font-weight="normal"  xml:space="preserve">107.845</text>
<text transform="translate(1634 152.9) scale(0.913 1)" font-size="10.0" fill="#000" text-anchor="start" font-weight="normal"  xml:space="preserve">107.620</text>
<text transform="translate(1634 185.9) scale(0.913 1)" font-size="10.0" fill="#000" text-anchor="start" font-weight="normal"  xml:space="preserve">107.400</text>
<text transform="translate(1634 218.9) scale(0.913 1)" font-size="10.0" fill="#000" text-anchor="start" font-weight="normal"  xml:space="preserve">107.175</text>
<text transform="translate(1634 251.9) scale(0.913 1)" font-size="10.0" fill="#000" text-anchor="start" font-weight="normal"  xml:space="preserve">106.955</text>
<text transform="translate(1634 284.9) scale(0.913 1)" font-size="10.0" fill="#000" text-anchor="start" font-weight="normal"  xml:space="preserve">106.730</text>
<text transform="translate(1634 317.9) scale(0.913 1)" font-size="10.0" fill="#000" text-anchor="start" font-weight="normal"  xml:space="preserve">106.510</text>
<text transform="translate(1634 350.9) scale(0.913 1)" font-size="10.0" fill="#000" text-anchor="start" font-weight="normal"  xml:space="preserve">106.285</text>
<text transform="translate(1634 383.9) scale(0.913 1)" font-size="10.0" fill="#000" text-anchor="start" font-weight="normal"  xml:space="preserve">106.065</text>
<text transform="translate(1634 416.9) scale(0.913 1)" font-size="10.0" fill="#000" text-anchor="start" font-weight="normal"  xml:space="preserve">105.840</text>
<text transform="translate(1634 449.9) scale(0.913 1)" font-size="10.0" fill="#000" text-anchor="start" font-weight="normal"  xml:space="preserve">105.615</text>
<text transform="translate(1634 482.9) scale(0.913 1)" font-size="10.0" fill="#000" text-anchor="start" font-weight="normal"  xml:space="preserve">105.395</text>
<text transform="translate(1634 515.9) scale(0.913 1)" font-size="10.0" fill="#000" text-anchor="start" font-weight="normal"  xml:space="preserve">105.170</text>
<text transform="translate(1634 548.9) scale(0.913 1)" font-size="10.0" fill="#000" text-anchor="start" font-weight="normal"  xml:space="preserve">104.950</text>
<text transform="translate(1634 581.9) scale(0.913 1)" font-size="10.0" fill="#000" text-anchor="start" font-weight="normal"  xml:space="preserve">104.725</text>
<rect x="1630" y="26" width="41" height="11" fill="#ff0000" shape-rendering="crispEdges"/><text transform="translate(1634 34.9) scale(0.913 1)" font-size="10.0" fill="#fff" text-anchor="start" font-weight="normal"  xml:space="preserve">108.415</text>
<rect x="1630" y="50" width="41" height="11" fill="#ff0000" shape-rendering="crispEdges"/><text transform="translate(1634 58.9) scale(0.913 1)" font-size="10.0" fill="#fff" text-anchor="start" font-weight="normal"  xml:space="preserve">108.248</text>
<rect x="1630" y="76" width="41" height="11" fill="#000" shape-rendering="crispEdges"/><text transform="translate(1634 84.9) scale(0.913 1)" font-size="10.0" fill="#fff" text-anchor="start" font-weight="normal"  xml:space="preserve">108.085</text>
<rect x="1630" y="97" width="41" height="11" fill="#32cd32" shape-rendering="crispEdges"/><text transform="translate(1634 105.9) scale(0.913 1)" font-size="10.0" fill="#fff" text-anchor="start" font-weight="normal"  xml:space="preserve">107.931</text>
<rect x="1630" y="127" width="41" height="11" fill="#0000ff" shape-rendering="crispEdges"/><text transform="translate(1634 135.9) scale(0.913 1)" font-size="10.0" fill="#fff" text-anchor="start" font-weight="normal"  xml:space="preserve">107.730</text>
<rect x="1630" y="155" width="41" height="11" fill="#0000ff" shape-rendering="crispEdges"/><text transform="translate(1634 163.9) scale(0.913 1)" font-size="10.0" fill="#fff" text-anchor="start" font-weight="normal"  xml:space="preserve">107.546</text>
<text transform="translate(1631.6 594) scale(0.913 1)" font-size="10.0" fill="#000" text-anchor="start" font-weight="normal"  xml:space="preserve">0.3619</text>
<text transform="translate(1631.6 665) scale(0.913 1)" font-size="10.0" fill="#000" text-anchor="start" font-weight="normal"  xml:space="preserve">0.00</text>
<text transform="translate(1631.6 763) scale(0.913 1)" font-size="10.0" fill="#000" text-anchor="start" font-weight="normal"  xml:space="preserve">-0.4895</text>
<text transform="translate(1631.6 779) scale(0.913 1)" font-size="10.0" fill="#000" text-anchor="start" font-weight="normal"  xml:space="preserve">100</text>
<text transform="translate(1631.6 805) scale(0.913 1)" font-size="10.0" fill="#000" text-anchor="start" font-weight="normal"  xml:space="preserve">80</text>
<text transform="translate(1631.6 852) scale(0.913 1)" font-size="10.0" fill="#000" text-anchor="start" font-weight="normal"  xml:space="preserve">50</text>
<text transform="translate(1631.6 908) scale(0.913 1)" font-size="10.0" fill="#000" text-anchor="start" font-weight="normal"  xml:space="preserve">15</text>
<text transform="translate(1631.6 925) scale(0.913 1)" font-size="10.0" fill="#000" text-anchor="start" font-weight="normal"  xml:space="preserve">0</text>
<text transform="translate(-0.9 940.9) scale(0.951 1)" font-size="10.0" fill="#000" text-anchor="start" font-weight="normal"  xml:space="preserve">7 Aug 2019</text>
<text transform="translate(62.7 940.9) scale(0.951 1)" font-size="10.0" fill="#000" text-anchor="start" font-weight="normal"  xml:space="preserve">9 Aug 00:00</text>
<text transform="translate(126.7 940.9) scale(0.951 1)" font-size="10.0" fill="#000" text-anchor="start" font-weight="normal"  xml:space="preserve">12 Aug 08:00</text>
<text transform="translate(190.7 940.9) scale(0.951 1)" font-size="10.0" fill="#000" text-anchor="start" font-weight="normal"  xml:space="preserve">13 Aug 16:00</text>
<text transform="translate(254.7 940.9) scale(0.951 1)" font-size="10.0" fill="#000" text-anchor="start" font-weight="normal"  xml:space="preserve">15 Aug 00:00</text>
<text transform="translate(318.7 940.9) scale(0.951 1)" font-size="10.0" fill="#000" text-anchor="start" font-weight="normal"  xml:space="preserve">16 Aug 08:00</text>
<text transform="translate(382.7 940.9) scale(0.951 1)" font-size="10.0" fill="#000" text-anchor="start" font-weight="normal"  xml:space="preserve">19 Aug 16:00</text>
<text transform="translate(446.7 940.9) scale(0.951 1)" font-size="10.0" fill="#000" text-anchor="start" font-weight="normal"  xml:space="preserve">21 Aug 00:00</text>
<text transform="translate(510.7 940.9) scale(0.951 1)" font-size="10.0" fill="#000" text-anchor="start" font-weight="normal"  xml:space="preserve">22 Aug 08:00</text>
<text transform="translate(574.7 940.9) scale(0.951 1)" font-size="10.0" fill="#000" text-anchor="start" font-weight="normal"  xml:space="preserve">23 Aug 16:00</text>
<text transform="translate(638.7 940.9) scale(0.951 1)" font-size="10.0" fill="#000" text-anchor="start" font-weight="normal"  xml:space="preserve">27 Aug 00:00</text>
<text transform="translate(702.7 940.9) scale(0.951 1)" font-size="10.0" fill="#000" text-anchor="start" font-weight="normal"  xml:space="preserve">28 Aug 08:00</text>
<text transform="translate(766.7 940.9) scale(0.951 1)" font-size="10.0" fill="#000" text-anchor="start" font-weight="normal"  xml:space="preserve">29 Aug 16:00</text>
<text transform="translate(830.7 940.9) scale(0.951 1)" font-size="10.0" fill="#000" text-anchor="start" font-weight="normal"  xml:space="preserve">2 Sep 00:00</text>
<text transform="translate(894.7 940.9) scale(0.951 1)" font-size="10.0" fill="#000" text-anchor="start" font-weight="normal"  xml:space="preserve">3 Sep 08:00</text>
<text transform="translate(958.7 940.9) scale(0.951 1)" font-size="10.0" fill="#000" text-anchor="start" font-weight="normal"  xml:space="preserve">4 Sep 16:00</text>
<text transform="translate(1022.7 940.9) scale(0.951 1)" font-size="10.0" fill="#000" text-anchor="start" font-weight="normal"  xml:space="preserve">6 Sep 00:00</text>
<text transform="translate(1086.7 940.9) scale(0.951 1)" font-size="10.0" fill="#000" text-anchor="start" font-weight="normal"  xml:space="preserve">9 Sep 08:00</text>
<text transform="translate(1150.7 940.9) scale(0.951 1)" font-size="10.0" fill="#000" text-anchor="start" font-weight="normal"  xml:space="preserve">10 Sep 16:00</text>
<text transform="translate(1214.7 940.9) scale(0.951 1)" font-size="10.0" fill="#000" text-anchor="start" font-weight="normal"  xml:space="preserve">12 Sep 00:00</text>
<text transform="translate(1278.7 940.9) scale(0.951 1)" font-size="10.0" fill="#000" text-anchor="start" font-weight="normal"  xml:space="preserve">13 Sep 08:00</text>
<text transform="translate(1342.7 940.9) scale(0.951 1)" font-size="10.0" fill="#000" text-anchor="start" font-weight="normal"  xml:space="preserve">16 Sep 16:00</text>
<text transform="translate(15.2 39.9) scale(0.936 1)" font-size="10.0" fill="#000" text-anchor="start" font-weight="normal"  xml:space="preserve">USDJPY-,H4  108.071 108.160 108.067 108.085</text>
<path d="M3 39l3.5-4.2 3.5 4.2z" fill="#000"/>
<text transform="translate(3.8 595.8) scale(0.949 1)" font-size="10.0" fill="#000" text-anchor="start" font-weight="normal"  xml:space="preserve">MACD(12,26,9) 0.1462 0.1870</text>
<text transform="translate(3.8 780.8) scale(0.931 1)" font-size="10.0" fill="#000" text-anchor="start" font-weight="normal"  xml:space="preserve">RSI(14) 60.3967</text>
</g>
<rect x="1481" y="103" width="8" height="1" fill="#ff0000" shape-rendering="crispEdges"/>
<rect x="1488.5" y="101.5" width="3" height="4" fill="#fff" stroke="#ff0000" stroke-width="1"/>
<rect x="1491.5" y="87.5" width="99" height="32" fill="#fff" stroke="#ff0000" stroke-width="1"/>
<g font-family='"Liberation Sans", sans-serif'><text transform="translate(1493.2 114) scale(0.935 1)" font-size="28.3" fill="#ff0000" text-anchor="start" font-weight="normal"  xml:space="preserve">107.931</text></g>
<g transform="translate(1428.2 219.4)"><text x="3.05" y="1.05" font-size="32.5" fill="#000040" style='font-family:"Liberation Sans", "Noto Sans CJK SC", sans-serif' textLength="161" lengthAdjust="spacing">多空转折点</text><text x="2" y="0" font-size="32.5" fill="#00ff00" style='font-family:"Liberation Sans", "Noto Sans CJK SC", sans-serif' textLength="161" lengthAdjust="spacing">多空转折点</text></g>
<defs>
<linearGradient id="gs" x1="0" y1="0" x2="0" y2="1"><stop offset="0" stop-color="#f85050"/><stop offset="1" stop-color="#e02c2c"/></linearGradient>
<linearGradient id="gb" x1="0" y1="0" x2="0" y2="1"><stop offset="0" stop-color="#dc2a2a"/><stop offset="1" stop-color="#a80000"/></linearGradient>
<linearGradient id="gbtn" x1="0" y1="0" x2="0" y2="1"><stop offset="0" stop-color="#f4f4f4"/><stop offset="1" stop-color="#dcdcdc"/></linearGradient>
</defs>
<rect x="3" y="48" width="51.5" height="25" fill="url(#gs)"/>
<rect x="170.3" y="48" width="51.5" height="25" fill="url(#gs)"/>
<rect x="3" y="72.3" width="109" height="39.7" fill="url(#gb)"/>
<rect x="114" y="72.3" width="107.8" height="39.7" fill="url(#gb)"/>
<path d="M3.5 112V48.5H54.5V72.5M170.5 72.5V48.5H221.5V112" fill="none" stroke="#c00000" stroke-width="1"/>
<path d="M3 111.7H112M114 111.7H221.8" stroke="#a00000" stroke-width="0.8" fill="none"/>
<path d="M7 71.6H50.8M173.8 71.6H218" stroke="#8c0000" stroke-width="1" fill="none"/>
<path d="M7 72.6H50.8M173.8 72.6H218" stroke="#ff8a8a" stroke-width="1" fill="none"/>
<rect x="57" y="48.5" width="111" height="21" fill="#fff" stroke="#a8a8a8" stroke-width="1"/>
<rect x="57.5" y="49" width="21" height="20" fill="url(#gbtn)"/>
<rect x="146.5" y="49" width="21" height="20" fill="url(#gbtn)"/>
<path d="M78.5 49V69M146.5 49V69" stroke="#a8a8a8" stroke-width="1" fill="none"/>
<path d="M64.6 57.2h5.6l-2.8 3z" fill="#000"/>
<path d="M153.6 60.2h5.6l-2.8-3z" fill="#000"/>
<g font-family='"Liberation Sans", sans-serif'>
<text transform="translate(142.9 63) scale(0.95 1)" font-size="11.6" fill="#000" text-anchor="end" font-weight="normal"  xml:space="preserve">1.00</text>
<text transform="translate(28.2 63.6) scale(0.86 1)" font-size="12.2" fill="#fff" text-anchor="middle" font-weight="normal"  xml:space="preserve">SELL</text>
<text transform="translate(195.2 63.6) scale(0.88 1)" font-size="12.2" fill="#fff" text-anchor="middle" font-weight="normal"  xml:space="preserve">BUY</text>
<text transform="translate(26.6 103.3) scale(0.98 1)" font-size="12" fill="#fff" text-anchor="start" font-weight="bold"  xml:space="preserve">108</text>
<text transform="translate(136.8 103.3) scale(0.98 1)" font-size="12" fill="#fff" text-anchor="start" font-weight="bold"  xml:space="preserve">108</text>
<text transform="translate(90.5 87.2) scale(0.95 1)" font-size="11.6" fill="#fff" text-anchor="start" font-weight="bold"  xml:space="preserve">5</text>
<text transform="translate(201.4 87.2) scale(0.95 1)" font-size="11.6" fill="#fff" text-anchor="start" font-weight="bold"  xml:space="preserve">5</text>
</g>
<text transform="translate(48.6 104) scale(0.93 1)" x="0" y="0" font-size="35.8" fill="#fff" text-anchor="start" font-weight="normal" font-family='"Liberation Sans", sans-serif'>08</text>
<text transform="translate(160.6 104) scale(0.93 1)" x="0" y="0" font-size="35.8" fill="#fff" text-anchor="start" font-weight="normal" font-family='"Liberation Sans", sans-serif'>10</text>
<defs>
<linearGradient id="tbg" x1="0" y1="0" x2="0" y2="1"><stop offset="0" stop-color="#f0f0f0"/><stop offset="0.35" stop-color="#cfcfcf"/><stop offset="1" stop-color="#5e5e5e"/></linearGradient>
<linearGradient id="gold" x1="0" y1="0" x2="1" y2="1"><stop offset="0" stop-color="#ffe680"/><stop offset="0.5" stop-color="#f0c030"/><stop offset="1" stop-color="#b8800c"/></linearGradient>
<linearGradient id="blu" x1="0" y1="0" x2="1" y2="1"><stop offset="0" stop-color="#5ab4ff"/><stop offset="1" stop-color="#1a6ee0"/></linearGradient>
<radialGradient id="mag" cx="0.4" cy="0.35" r="0.75"><stop offset="0" stop-color="#f4fcff"/><stop offset="1" stop-color="#b4def4"/></radialGradient>
<radialGradient id="wedge" gradientUnits="userSpaceOnUse" cx="130" cy="12" r="7.6"><stop offset="0" stop-color="#e8f6e8"/><stop offset="0.55" stop-color="#9fd49f"/><stop offset="1" stop-color="#3ea23e"/></radialGradient>
<radialGradient id="sig" cx="0.5" cy="0.5" r="0.5"><stop offset="0" stop-color="#ffffff"/><stop offset="1" stop-color="#dfe8f8"/></radialGradient>
<linearGradient id="hat" x1="0" y1="0" x2="0" y2="1"><stop offset="0" stop-color="#a4dcf8"/><stop offset="1" stop-color="#3f9ad8"/></linearGradient>
<linearGradient id="cone" x1="0" y1="0" x2="1" y2="1"><stop offset="0" stop-color="#fff2a0"/><stop offset="1" stop-color="#e8b820"/></linearGradient>
<linearGradient id="clk" x1="0" y1="0" x2="0" y2="1"><stop offset="0" stop-color="#3a94f4"/><stop offset="1" stop-color="#0a40b0"/></linearGradient>
</defs>
<rect x="0" y="0" width="1675" height="23" fill="#f0f0f0"/>
<rect x="0" y="22.8" width="1675" height="3.2" fill="url(#tbg)"/>
<path d="M-1 4.5h8.4l3.6 3.6v9.4h-12z" fill="#fdfdfd" stroke="#8e8e8e" stroke-width="0.9"/>
<path d="M7.4 4.5v3.6h3.6" fill="#e0e0e0" stroke="#8e8e8e" stroke-width="0.8"/>
<path d="M1 7.2h3.4M0 9.8h6M0 12.2h4" stroke="#8a8a8a" stroke-width="1.1" fill="none"/>
<path d="M7.4 10.5h3.4v3.9h3.8v3.2h-3.8v3.9h-3.4v-3.9h-3.8v-3.2h3.8z" fill="#2fd42f" stroke="#088408" stroke-width="0.9" stroke-linejoin="round"/>
<path d="M8.3 11.4h1.6v3.9h3.8M4.5 15.3h3.8" stroke="#8af48a" stroke-width="0.9" fill="none"/>
<text x="17.6" y="14.9" font-size="12" fill="#000" style='font-family:"Liberation Sans", "Noto Sans CJK SC", sans-serif'>新订单</text>
<path d="M72 5.2L81.8 12.4L75.6 19.4L66 14.2z" fill="url(#gold)" stroke="#a8700e" stroke-width="0.9" stroke-linejoin="round"/>
<path d="M72.2 6.6L80 12.5" stroke="#fff4b0" stroke-width="0.9" fill="none"/>
<path d="M66.2 14.4L75.2 19.2L81.8 12.6L81.8 14.2L75.4 20.6L66.2 15.8z" fill="#a8731a" stroke="#7a4e08" stroke-width="0.6" stroke-linejoin="round"/>
<path d="M67.4 15.4L75.3 19.8L81 14" stroke="#f4e6b8" stroke-width="0.6" fill="none"/>
<path d="M97 5.2L101 4.2L107.4 5V14.4L100.6 15.6L97 14z" fill="url(#blu)" stroke="#1a5fc0" stroke-width="0.8" stroke-linejoin="round"/>
<path d="M100.8 6.4L106.4 6V13.4L100.8 14.4z" fill="#cfe6ff"/>
<path d="M102 8.6l3.4-.5M102 10.6l2.4-.3" stroke="#3a86e0" stroke-width="0.9"/>
<path d="M97.2 19.3a2.9 2.9 0 0 1 0.3-5.7a3.6 3.6 0 0 1 6.4-1.2a3.2 3.2 0 0 1 5.6 2.2a2.5 2.5 0 0 1-1 4.7z" fill="#f4f8fd" stroke="#5a78b4" stroke-width="0.9"/>
<path d="M96.6 17.6c3 1.2 9 1.2 12.6 0" stroke="#b8c8e4" stroke-width="1" fill="none"/>
<circle cx="130" cy="12" r="7.6" fill="url(#sig)" stroke="#9fb4dc" stroke-width="0.9"/>
<path d="M130 12L130.6 19.6A7.6 7.6 0 0 0 137.2 9.6z" fill="url(#wedge)"/>
<path d="M130 12L130.6 19.6" stroke="#1e8a1e" stroke-width="1.6"/>
<circle cx="130" cy="12" r="5.3" fill="none" stroke="#5a86dc" stroke-width="1" stroke-dasharray="20 13.3" transform="rotate(135 130 12)"/>
<circle cx="130" cy="12" r="3.1" fill="none" stroke="#5a86dc" stroke-width="1" stroke-dasharray="12 7.5" transform="rotate(135 130 12)"/>
<circle cx="130" cy="11.8" r="1.5" fill="#2456c8"/>
<path d="M149.6 10.4L164.6 10.2L164.8 12.4L157.6 19.8L152.6 17.4z" fill="url(#cone)" stroke="#d0a020" stroke-width="0.7" stroke-linejoin="round"/>
<ellipse cx="157.1" cy="9.3" rx="8" ry="2.3" fill="url(#hat)" stroke="#3a8cc8" stroke-width="0.7"/>
<path d="M152.8 8.8c.2-5.4 8.2-5.4 8.6 0c-2.6 1.1-6 1.1-8.6 0z" fill="url(#hat)" stroke="#3a8cc8" stroke-width="0.7"/>
<circle cx="161.4" cy="15.8" r="4" fill="#e02a10" stroke="#b01c04" stroke-width="0.6"/>
<rect x="159.8" y="14.2" width="3.2" height="3.2" fill="#fff"/>
<text x="170.6" y="14.9" font-size="11.8" fill="#000" style='font-family:"Liberation Sans", "Noto Sans CJK SC", sans-serif'>自动交易</text>
<path d="M225.5 0V23.4" stroke="#a0a0a0" stroke-width="1.1" fill="none"/>
<path d="M226.6 0V23.4" stroke="#fff" stroke-width="1.1"/>
<path d="M230.5 2V21" stroke="#a4a4a4" stroke-width="3" stroke-dasharray="1 1" fill="none" shape-rendering="crispEdges"/>
<path d="M243.5 19.8V7M241 17.5H254" stroke="#585858" stroke-width="1.05" fill="none"/><path d="M241.8 8.2L243.5 5.9L245.2 8.2zM253 15.9L255.2 17.5L253 19.1z" fill="#585858"/>
<path d="M249.6 7.2V15.9M247 14.5h2.6M249.6 8.5h2.6" stroke="#0a860a" stroke-width="1.2" fill="none"/>
<rect x="263.5" y="0.5" width="25.0" height="22.0" fill="#f8f8f8"/><path d="M263.5 22.5V0.5H288.5" stroke="#a6a6a6" stroke-width="1" fill="none"/><path d="M288.5 0.5V22.5H263.5" stroke="#ffffff" stroke-width="1" fill="none"/>
<path d="M271.5 19.8V7M269 17.5H282" stroke="#585858" stroke-width="1.05" fill="none"/><path d="M269.8 8.2L271.5 5.9L273.2 8.2zM281 15.9L283.2 17.5L281 19.1z" fill="#585858"/>
<path d="M277.6 4.6V15.8" stroke="#0d7a0d" stroke-width="1.1"/>
<rect x="275.6" y="7" width="4" height="6.6" fill="#52e65a" stroke="#0b8a0b" stroke-width="1"/>
<path d="M299.5 19.8V7M297 17.5H310" stroke="#585858" stroke-width="1.05" fill="none"/><path d="M297.8 8.2L299.5 5.9L301.2 8.2zM309 15.9L311.2 17.5L309 19.1z" fill="#585858"/>
<path d="M298.4 14.4C301 12 302.6 9 304.6 9S308 11.6 310 13" stroke="#1f9a1f" stroke-width="1.2" fill="none"/>
<path d="M320.7 2V22" stroke="#9c9c9c" stroke-width="1.1" fill="none"/>
<path d="M339.09999999999997 14L344.29999999999995 18.4" stroke="#9a7414" stroke-width="3.6" stroke-linecap="butt"/>
<path d="M339.2 13.9L344.2 18.3" stroke="#f4d860" stroke-width="1.9" stroke-linecap="butt"/>
<circle cx="334.9" cy="9.9" r="5.5" fill="url(#mag)" stroke="#2a72c0" stroke-width="1.15"/>
<path d="M331.59999999999997 9.9h6.6M334.9 6.6v6.6" stroke="#3c8cc0" stroke-width="1.9"/>
<path d="M367.09999999999997 14L372.29999999999995 18.4" stroke="#9a7414" stroke-width="3.6" stroke-linecap="butt"/>
<path d="M367.2 13.9L372.2 18.3" stroke="#f4d860" stroke-width="1.9" stroke-linecap="butt"/>
<circle cx="362.9" cy="9.9" r="5.5" fill="url(#mag)" stroke="#2a72c0" stroke-width="1.15"/>
<path d="M359.59999999999997 9.9h6.6" stroke="#3c8cc0" stroke-width="1.9"/>
<defs><linearGradient id="tg" x1="0" y1="0" x2="1" y2="0"><stop offset="0" stop-color="#44a828"/><stop offset="1" stop-color="#228a0c"/></linearGradient><linearGradient id="tb" x1="0" y1="0" x2="1" y2="0"><stop offset="0" stop-color="#3a6ee0"/><stop offset="1" stop-color="#0c34b0"/></linearGradient></defs>
<rect x="385" y="4.2" width="7.9" height="7.6" fill="url(#tg)"/>
<path d="M386.2 7.5h5.6v3.6h-1v-.9h-3.6v.9h-1z" fill="#fff"/>
<rect x="387.3" y="8.4" width="3.4" height="0.9" fill="#9ad488"/>
<rect x="386.2" y="5.4" width="1" height="1" fill="#e8f4e8"/>
<rect x="393.1" y="4.2" width="7.9" height="7.6" fill="url(#tb)"/>
<path d="M394.3 7.5h5.6v3.6h-1v-.9h-3.6v.9h-1z" fill="#fff"/>
<rect x="395.40000000000003" y="8.4" width="3.4" height="0.9" fill="#8aa8ec"/>
<rect x="394.3" y="5.4" width="1" height="1" fill="#e8f4e8"/>
<rect x="385" y="12.1" width="7.9" height="7.6" fill="url(#tb)"/>
<path d="M386.2 15.399999999999999h5.6v3.6h-1v-.9h-3.6v.9h-1z" fill="#fff"/>
<rect x="387.3" y="16.3" width="3.4" height="0.9" fill="#8aa8ec"/>
<rect x="386.2" y="13.299999999999999" width="1" height="1" fill="#e8f4e8"/>
<rect x="393.1" y="12.1" width="7.9" height="7.6" fill="url(#tg)"/>
<path d="M394.3 15.399999999999999h5.6v3.6h-1v-.9h-3.6v.9h-1z" fill="#fff"/>
<rect x="395.40000000000003" y="16.3" width="3.4" height="0.9" fill="#9ad488"/>
<rect x="394.3" y="13.299999999999999" width="1" height="1" fill="#e8f4e8"/>
<path d="M410.5 2V22" stroke="#9c9c9c" stroke-width="1.1" fill="none"/>
<rect x="415.5" y="0.5" width="25.0" height="22.0" fill="#f8f8f8"/><path d="M415.5 22.5V0.5H440.5" stroke="#a6a6a6" stroke-width="1" fill="none"/><path d="M440.5 0.5V22.5H415.5" stroke="#ffffff" stroke-width="1" fill="none"/>
<path d="M423.5 19.8V7M421 17.5H434" stroke="#585858" stroke-width="1.05" fill="none"/><path d="M421.8 8.2L423.5 5.9L425.2 8.2zM433 15.9L435.2 17.5L433 19.1z" fill="#585858"/>
<path d="M428.3 8.3V14.7L431.9 11.5z" fill="#86ee86" stroke="#139a13" stroke-width="1.1" stroke-linejoin="round"/>
<rect x="443.5" y="0.5" width="25.0" height="22.0" fill="#f8f8f8"/><path d="M443.5 22.5V0.5H468.5" stroke="#a6a6a6" stroke-width="1" fill="none"/><path d="M468.5 0.5V22.5H443.5" stroke="#ffffff" stroke-width="1" fill="none"/>
<path d="M451.5 19.8V7M449 17.5H462" stroke="#585858" stroke-width="1.05" fill="none"/><path d="M449.8 8.2L451.5 5.9L453.2 8.2zM461 15.9L463.2 17.5L461 19.1z" fill="#585858"/>
<path d="M457.4 6V15.7" stroke="#1a6a9c" stroke-width="1.25"/>
<path d="M458.6 11.4h4.6" stroke="#e8600c" stroke-width="1.3" fill="none"/><path d="M461.6 9.2L458.6 11.4L461.6 13.6L460.8 11.4z" fill="#a83200" stroke="#a83200" stroke-width="0.5"/>
<path d="M472.5 2V22" stroke="#9c9c9c" stroke-width="1.1" fill="none"/>
<path d="M482.4 4.6h7.6l3.6 3.6v9h-11.2z" fill="#fdfdfd" stroke="#9a9a9a" stroke-width="0.9"/><path d="M490 4.6v3.6h3.6" fill="#e8e8e8" stroke="#9a9a9a" stroke-width="0.8"/><path d="M487.2 7c-1.4 0-1.5.8-1.5 1.8c0 1.2-.2 1.7-1 1.9c.8.2 1 .7 1 1.9c0 1 .1 1.8 1.5 1.8M485.6 9.4h2.2" stroke="#5a4a3a" stroke-width="0.9" fill="none"/><path d="M490.2 10.5h3.4v3.9h3.8v3.2h-3.8v3.9h-3.4v-3.9h-3.8v-3.2h3.8z" fill="#2fd42f" stroke="#088408" stroke-width="0.9" stroke-linejoin="round"/><path d="M491.09999999999997 11.4h1.6v3.9h3.8M487.3 15.3h3.8" stroke="#8af48a" stroke-width="0.9" fill="none"/>
<path d="M503.6 11h5.4l-2.7 3z" fill="#000"/>
<circle cx="527.9" cy="12" r="6.6" fill="#fafcff" stroke="url(#clk)" stroke-width="3"/>
<path d="M527.2 7.8L527.9 12.2L531.2 12.6" stroke="#333" stroke-width="1.3" fill="none"/>
<path d="M527.9 7v.8M527.9 16.2v.8M523 12h.8M532.4 12h.8M524.4 8.5l.5.5M531.4 8.5l-.5.5M524.4 15.5l.5-.5M531.4 15.5l-.5-.5" stroke="#8a8a9a" stroke-width="0.8"/>
<path d="M542.6 11h5.4l-2.7 3z" fill="#000"/>
<rect x="560" y="5.4" width="14.8" height="13" fill="#fdfdff" stroke="#3a6cc4" stroke-width="1.1"/>
<rect x="560" y="5.4" width="14.8" height="2.2" fill="#5a94e0"/>
<path d="M560.6 13.2H574.2" stroke="#5a8ad4" stroke-width="1"/>
<path d="M561.4 11.4h1.6l1.6-1.2h1.4l1.4-.9 1.6 1h1.6l1.6-1.1h1.2" stroke="#a81c08" stroke-width="1.2" fill="none"/>
<path d="M561.6 16.6h1.4l1.4-.9h1.4l1.6 .8 2-2.2 1.4 1 1.4 1.4" stroke="#0c8a1c" stroke-width="1.2" fill="none"/>
<path d="M581.8 11h5.4l-2.7 3z" fill="#000"/>
<path d="M593.5 0V23.4" stroke="#a0a0a0" stroke-width="1.1" fill="none"/>
<path d="M594.6 0V23.4" stroke="#fff" stroke-width="1.1"/>
<path d="M598.5 2V21" stroke="#a4a4a4" stroke-width="3" stroke-dasharray="1 1" fill="none" shape-rendering="crispEdges"/>
<rect x="603.5" y="0.5" width="25.0" height="22.0" fill="#f8f8f8"/><path d="M603.5 22.5V0.5H628.5" stroke="#a6a6a6" stroke-width="1" fill="none"/><path d="M628.5 0.5V22.5H603.5" stroke="#ffffff" stroke-width="1" fill="none"/>
<path d="M611.2 4.9V16.2L613.9 13.9L616 19.1L617.9 18.4L615.7 13.2L619.2 12.8z" fill="#4a4a4a" stroke="#4a4a4a" stroke-width="0.3" stroke-linejoin="round"/>
<path d="M643.5 5.4V10.6M643.5 14.2V19.4M636.4 12.4H641.7M645.3 12.4H650.6" stroke="#3c3c3c" stroke-width="1.1"/>
<path d="M660.7 2V22" stroke="#9c9c9c" stroke-width="1.1" fill="none"/>
<path d="M677.5 6.2V19" stroke="#3c3c3c" stroke-width="1.2"/>
<path d="M699.8 12.5H712.4" stroke="#3c3c3c" stroke-width="1.2"/>
<path d="M727.6 19.2L740.4 6.6" stroke="#3c3c3c" stroke-width="1.2"/>
<g stroke="#4a4a4a" stroke-width="1" fill="none"><path d="M753.6 14.2L767.4 5.4M754.8 18.8L768.4 10"/><path d="M757.6 10.6l-1.4 7.6M760.8 8.4l-1.4 7.8M764 6.4l-1.4 7.6M766.6 3.8l-.9 7.4"/></g>
<text x="764.8" y="20.8" font-size="7.6" font-weight="bold" fill="#3a3a3a" font-family='"Liberation Sans", sans-serif'>E</text>
<g stroke="#555" stroke-width="1" stroke-dasharray="1 1" fill="none" shape-rendering="crispEdges"><path d="M783 5.5H796M783 8.5H796M783 12.5H796M783 16.5H792"/></g>
<text x="793" y="20.8" font-size="7.6" font-weight="bold" fill="#3a3a3a" font-family='"Liberation Sans", sans-serif'>F</text>
<text x="817.9" y="17.1" font-size="12.6" font-weight="bold" fill="#5a5a5a" text-anchor="middle" font-family='"Liberation Sans", sans-serif' transform="translate(817.9 0) scale(0.94 1) translate(-817.9 0)">A</text>
<rect x="840.5" y="6.5" width="11" height="12" fill="none" stroke="#4a4a4a" stroke-width="1" stroke-dasharray="1 1" shape-rendering="crispEdges"/>
<text x="846" y="17.1" font-size="10.8" font-weight="bold" fill="#505050" text-anchor="middle" font-family='"Liberation Sans", sans-serif'>T</text>
<path d="M867.2 10.4L870.5 6L873.8 10.4L870.5 11.4z" fill="#4a4a4a"/>
<path d="M874.6 14.6L877.9 13.6L881.2 14.6L877.9 19z" fill="#4a4a4a"/>
<path d="M869.6 13.8L871.5 15.4L875.6 9.8" stroke="#4a4a4a" stroke-width="1.1" fill="none"/>
<path d="M887.8 11h5.4l-2.7 3z" fill="#000"/>
<path d="M899.5 0V23.4" stroke="#a0a0a0" stroke-width="1.1" fill="none"/>
<path d="M900.6 0V23.4" stroke="#fff" stroke-width="1.1"/>
<path d="M904.5 2V21" stroke="#a4a4a4" stroke-width="3" stroke-dasharray="1 1" fill="none" shape-rendering="crispEdges"/>
<rect x="1049.5" y="0.5" width="25.0" height="22.0" fill="#f8f8f8"/><path d="M1049.5 22.5V0.5H1074.5" stroke="#a6a6a6" stroke-width="1" fill="none"/><path d="M1074.5 0.5V22.5H1049.5" stroke="#ffffff" stroke-width="1" fill="none"/>
<text transform="translate(921 16.1) scale(1.0 1)" font-size="9.7" fill="#3a3a3a" text-anchor="middle" font-family='"Liberation Sans", sans-serif'>M1</text>
<text transform="translate(949 16.1) scale(1.0 1)" font-size="9.7" fill="#3a3a3a" text-anchor="middle" font-family='"Liberation Sans", sans-serif'>M5</text>
<text transform="translate(977.2 16.1) scale(1.0 1)" font-size="9.7" fill="#3a3a3a" text-anchor="middle" font-family='"Liberation Sans", sans-serif'>M15</text>
<text transform="translate(1005.5 16.1) scale(1.0 1)" font-size="9.7" fill="#3a3a3a" text-anchor="middle" font-family='"Liberation Sans", sans-serif'>M30</text>
<text transform="translate(1033.3 16.1) scale(1.0 1)" font-size="9.7" fill="#3a3a3a" text-anchor="middle" font-family='"Liberation Sans", sans-serif'>H1</text>
<text transform="translate(1060.7 16.1) scale(1.0 1)" font-size="9.7" fill="#3a3a3a" text-anchor="middle" font-family='"Liberation Sans", sans-serif'>H4</text>
<text transform="translate(1089.5 16.1) scale(1.0 1)" font-size="9.7" fill="#3a3a3a" text-anchor="middle" font-family='"Liberation Sans", sans-serif'>D1</text>
<text transform="translate(1118 16.1) scale(1.0 1)" font-size="9.7" fill="#3a3a3a" text-anchor="middle" font-family='"Liberation Sans", sans-serif'>W1</text>
<text transform="translate(1145 16.1) scale(1.0 1)" font-size="9.7" fill="#3a3a3a" text-anchor="middle" font-family='"Liberation Sans", sans-serif'>MN</text>
<path d="M1160.5 0V23.4" stroke="#a0a0a0" stroke-width="1.1" fill="none"/>
<path d="M1161.6 0V23.4" stroke="#fff" stroke-width="1.1"/>
<path d="M1627.6 12.2L1623 16.6" stroke="#2a56c8" stroke-width="2.4" stroke-linecap="round"/>
<circle cx="1630.6" cy="9.3" r="3.7" fill="#f4f8ff" stroke="#2a56c8" stroke-width="1.3"/>
<path d="M1660 13.8l1.2 2.2 1.6-2z" fill="#8a8a8a"/>
<ellipse cx="1663.2" cy="9.2" rx="6.2" ry="4.9" fill="#f8f8fa" stroke="#9a9a9a" stroke-width="0.9"/>
<path d="M1651 17.2l.6 2 2.2-1.6z" fill="#8a8a8a"/>
<ellipse cx="1654.2" cy="13.6" rx="4.8" ry="3.9" fill="#f8f8fa" stroke="#9a9a9a" stroke-width="0.9"/>
<rect x="1673.7" y="26" width="1.3" height="924" fill="#ececec"/>
<rect x="0" y="948.4" width="1675" height="1.6" fill="#ececec"/></svg>
</body></html>
